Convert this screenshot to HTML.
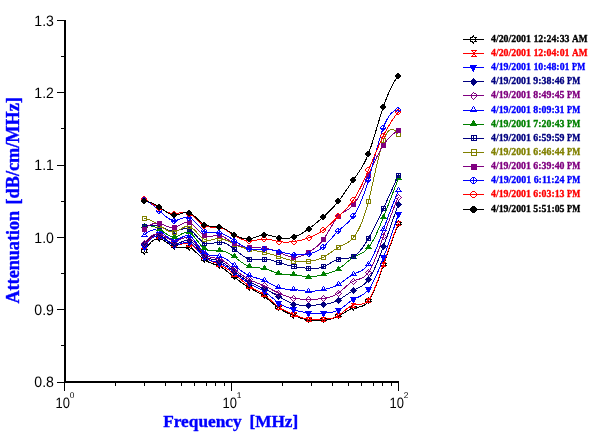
<!DOCTYPE html>
<html lang="en"><head><meta charset="utf-8"><title>Attenuation vs Frequency</title>
<style>html,body{margin:0;padding:0;background:#fff}svg{display:block}.tk{font-family:"Liberation Sans",Arial,sans-serif;font-size:15px;text-rendering:geometricPrecision;fill:#000}.sup{text-rendering:geometricPrecision;font-family:"Liberation Sans",Arial,sans-serif;font-size:8.4px;fill:#000}.ax{font-family:"Liberation Serif","Times New Roman",serif;font-weight:bold;fill:#0000ff;stroke:#0000ff;stroke-width:0.4px;stroke-linejoin:round}.lg{font-family:"Liberation Serif","Times New Roman",serif;font-weight:bold;font-size:10.3px;stroke-width:0.35px;stroke-linejoin:round}</style></head><body>
<svg width="605" height="438" viewBox="0 0 605 438">
<rect width="605" height="438" fill="#fff"/>
<g shape-rendering="crispEdges" fill="#000">
<rect x="64" y="20" width="2" height="363"/>
<rect x="64" y="381" width="335" height="2"/>
<rect x="57" y="20" width="7" height="1"/>
<rect x="61" y="56" width="3" height="1"/>
<rect x="57" y="92" width="7" height="1"/>
<rect x="61" y="128" width="3" height="1"/>
<rect x="57" y="165" width="7" height="1"/>
<rect x="61" y="201" width="3" height="1"/>
<rect x="57" y="237" width="7" height="1"/>
<rect x="61" y="273" width="3" height="1"/>
<rect x="57" y="309" width="7" height="1"/>
<rect x="61" y="345" width="3" height="1"/>
<rect x="57" y="382" width="7" height="1"/>
<rect x="64" y="383" width="1" height="8"/>
<rect x="115" y="383" width="1" height="3"/>
<rect x="144" y="383" width="1" height="3"/>
<rect x="165" y="383" width="1" height="3"/>
<rect x="181" y="383" width="1" height="3"/>
<rect x="194" y="383" width="1" height="3"/>
<rect x="206" y="383" width="1" height="3"/>
<rect x="215" y="383" width="1" height="3"/>
<rect x="224" y="383" width="1" height="3"/>
<rect x="231" y="383" width="1" height="8"/>
<rect x="282" y="383" width="1" height="3"/>
<rect x="311" y="383" width="1" height="3"/>
<rect x="332" y="383" width="1" height="3"/>
<rect x="348" y="383" width="1" height="3"/>
<rect x="361" y="383" width="1" height="3"/>
<rect x="373" y="383" width="1" height="3"/>
<rect x="382" y="383" width="1" height="3"/>
<rect x="391" y="383" width="1" height="3"/>
<rect x="398" y="383" width="1" height="8"/>
</g>
<text class="tk" x="53.9" y="26" text-anchor="end" textLength="19.6" lengthAdjust="spacingAndGlyphs">1.3</text>
<text class="tk" x="53.9" y="98" text-anchor="end" textLength="19.6" lengthAdjust="spacingAndGlyphs">1.2</text>
<text class="tk" x="53.9" y="170" text-anchor="end" textLength="19.6" lengthAdjust="spacingAndGlyphs">1.1</text>
<text class="tk" x="53.9" y="243" text-anchor="end" textLength="19.6" lengthAdjust="spacingAndGlyphs">1.0</text>
<text class="tk" x="53.9" y="315" text-anchor="end" textLength="19.6" lengthAdjust="spacingAndGlyphs">0.9</text>
<text class="tk" x="53.9" y="387" text-anchor="end" textLength="19.6" lengthAdjust="spacingAndGlyphs">0.8</text>
<text class="tk" x="70.0" y="408" text-anchor="end" textLength="14.4" lengthAdjust="spacingAndGlyphs">10</text>
<text class="sup" x="69.7" y="398">0</text>
<text class="tk" x="237.0" y="408" text-anchor="end" textLength="14.4" lengthAdjust="spacingAndGlyphs">10</text>
<text class="sup" x="236.7" y="398">1</text>
<text class="tk" x="404.0" y="408" text-anchor="end" textLength="14.4" lengthAdjust="spacingAndGlyphs">10</text>
<text class="sup" x="403.7" y="398">2</text>
<text class="ax" font-size="17.6" y="427"><tspan x="163.2" textLength="78.4" lengthAdjust="spacingAndGlyphs">Frequency</tspan> <tspan x="249.4" textLength="48.8" lengthAdjust="spacingAndGlyphs">[MHz]</tspan></text>
<text class="ax" font-size="18.6" transform="translate(18.8 303.5) rotate(-90)"><tspan x="0" textLength="92.6" lengthAdjust="spacingAndGlyphs">Attenuation</tspan> <tspan x="99" textLength="107.4" lengthAdjust="spacingAndGlyphs">[dB/cm/MHz]</tspan></text>
<g shape-rendering="crispEdges" stroke-width="1" stroke-linejoin="round">
<polyline points="144.2,251.6 145.2,249.9 146.2,248.4 147.2,246.9 148.2,245.6 149.2,244.3 150.2,243.2 151.2,242.1 152.2,241.2 153.2,240.5 154.2,239.8 155.2,239.3 156.2,238.9 157.2,238.7 158.2,238.6 159.2,238.6 160.2,238.8 161.2,239.1 162.2,239.6 163.2,240.1 164.2,240.7 165.2,241.4 166.2,242.1 167.2,242.9 168.2,243.6 169.2,244.4 170.2,245.1 171.2,245.7 172.2,246.3 173.2,246.8 174.2,247.2 175.2,247.5 176.2,247.6 177.2,247.7 178.2,247.7 179.2,247.6 180.2,247.5 181.2,247.4 182.2,247.3 183.2,247.2 184.2,247.1 185.2,247.0 186.2,247.0 187.2,247.1 188.2,247.3 189.2,247.6 190.2,248.0 191.2,248.6 192.2,249.2 193.2,249.9 194.2,250.7 195.2,251.6 196.2,252.5 197.2,253.4 198.2,254.4 199.2,255.3 200.2,256.3 201.2,257.2 202.2,258.0 203.2,258.9 204.2,259.6 205.2,260.3 206.2,260.9 207.2,261.4 208.2,261.9 209.2,262.4 210.2,262.8 211.2,263.2 212.2,263.5 213.2,263.9 214.2,264.2 215.2,264.6 216.2,264.9 217.2,265.3 218.2,265.7 219.2,266.2 220.2,266.7 221.2,267.3 222.2,267.9 223.2,268.5 224.2,269.2 225.2,269.9 226.2,270.7 227.2,271.4 228.2,272.2 229.2,273.0 230.2,273.8 231.2,274.6 232.2,275.4 233.2,276.2 234.2,277.0 235.2,277.8 236.2,278.6 237.2,279.4 238.2,280.2 239.2,280.9 240.2,281.7 241.2,282.4 242.2,283.1 243.2,283.8 244.2,284.5 245.2,285.1 246.2,285.8 247.2,286.4 248.2,287.0 249.2,287.6 250.2,288.2 251.2,288.8 252.2,289.3 253.2,289.8 254.2,290.4 255.2,290.9 256.2,291.4 257.2,292.0 258.2,292.5 259.2,293.1 260.2,293.7 261.2,294.3 262.2,294.9 263.2,295.6 264.2,296.3 265.2,297.1 266.2,297.8 267.2,298.6 268.2,299.5 269.2,300.3 270.2,301.2 271.2,302.0 272.3,302.9 273.3,303.7 274.3,304.6 275.3,305.4 276.3,306.2 277.3,307.0 278.3,307.7 279.3,308.4 280.3,309.1 281.3,309.7 282.3,310.3 283.3,310.9 284.3,311.4 285.3,311.9 286.3,312.4 287.3,312.9 288.3,313.3 289.3,313.8 290.3,314.2 291.3,314.6 292.3,315.0 293.3,315.4 294.3,315.7 295.3,316.1 296.3,316.5 297.3,316.9 298.3,317.2 299.3,317.6 300.3,318.0 301.3,318.3 302.3,318.6 303.3,318.9 304.3,319.2 305.3,319.5 306.3,319.7 307.3,319.9 308.3,320.1 309.3,320.3 310.3,320.4 311.3,320.5 312.3,320.6 313.3,320.7 314.3,320.7 315.3,320.7 316.3,320.7 317.3,320.7 318.3,320.6 319.3,320.6 320.3,320.5 321.3,320.4 322.3,320.3 323.3,320.2 324.3,320.1 325.3,320.0 326.3,319.8 327.3,319.7 328.3,319.5 329.3,319.3 330.3,319.1 331.3,318.9 332.3,318.6 333.3,318.3 334.3,318.0 335.3,317.6 336.3,317.2 337.3,316.7 338.3,316.3 339.3,315.7 340.3,315.2 341.3,314.6 342.3,314.0 343.3,313.3 344.3,312.7 345.3,312.1 346.3,311.4 347.3,310.8 348.3,310.3 349.3,309.7 350.3,309.2 351.3,308.8 352.3,308.4 353.3,308.0 354.3,307.8 355.3,307.6 356.3,307.4 357.3,307.3 358.3,307.1 359.3,307.0 360.3,306.8 361.3,306.5 362.3,306.1 363.3,305.7 364.3,305.1 365.3,304.4 366.3,303.6 367.3,302.6 368.3,301.3 369.3,299.9 370.3,298.3 371.3,296.5 372.3,294.5 373.3,292.3 374.3,290.0 375.3,287.6 376.3,285.0 377.3,282.4 378.3,279.7 379.3,276.9 380.3,274.1 381.3,271.2 382.3,268.3 383.3,265.4 384.3,262.5 385.3,259.6 386.3,256.7 387.3,253.8 388.3,251.0 389.3,248.2 390.3,245.4 391.3,242.6 392.3,239.9 393.3,237.1 394.3,234.5 395.3,231.8 396.3,229.3 397.3,226.7 398.3,224.2" fill="none" stroke="#000000"/>
<path d="M144 247h1v1h-1zM143 248h2v1h-2zM141 249h3v1h-3zM145 249h3v1h-3zM141 250h1v1h-1zM146 250h1v1h-1zM141 251h1v1h-1zM146 251h1v1h-1zM141 252h3v1h-3zM145 252h3v1h-3zM143 253h2v1h-2zM144 254h1v1h-1z" fill="#000000"/>
<path d="M159 234h1v1h-1zM158 235h2v1h-2zM156 236h3v1h-3zM160 236h3v1h-3zM156 237h1v1h-1zM161 237h1v1h-1zM156 238h1v1h-1zM161 238h1v1h-1zM156 239h3v1h-3zM160 239h3v1h-3zM158 240h2v1h-2zM159 241h1v1h-1z" fill="#000000"/>
<path d="M174 243h1v1h-1zM173 244h2v1h-2zM171 245h3v1h-3zM175 245h3v1h-3zM171 246h1v1h-1zM176 246h1v1h-1zM171 247h3v1h-3zM175 247h3v1h-3zM173 248h2v1h-2zM174 249h1v1h-1z" fill="#000000"/>
<path d="M189 243h1v1h-1zM188 244h2v1h-2zM186 245h3v1h-3zM190 245h3v1h-3zM186 246h1v1h-1zM191 246h1v1h-1zM186 247h1v1h-1zM191 247h1v1h-1zM186 248h3v1h-3zM190 248h3v1h-3zM188 249h2v1h-2zM189 250h1v1h-1z" fill="#000000"/>
<path d="M204 255h1v1h-1zM203 256h2v1h-2zM201 257h3v1h-3zM205 257h3v1h-3zM201 258h1v1h-1zM206 258h1v1h-1zM201 259h1v1h-1zM206 259h1v1h-1zM201 260h3v1h-3zM205 260h3v1h-3zM203 261h2v1h-2zM204 262h1v1h-1z" fill="#000000"/>
<path d="M219 262h1v1h-1zM218 263h2v1h-2zM216 264h3v1h-3zM220 264h3v1h-3zM216 265h1v1h-1zM221 265h1v1h-1zM216 266h3v1h-3zM220 266h3v1h-3zM218 267h2v1h-2zM219 268h1v1h-1z" fill="#000000"/>
<path d="M234 273h1v1h-1zM233 274h2v1h-2zM231 275h3v1h-3zM235 275h3v1h-3zM231 276h1v1h-1zM236 276h1v1h-1zM231 277h3v1h-3zM235 277h3v1h-3zM233 278h2v1h-2zM234 279h1v1h-1z" fill="#000000"/>
<path d="M249 283h1v1h-1zM248 284h2v1h-2zM246 285h3v1h-3zM250 285h3v1h-3zM246 286h1v1h-1zM251 286h1v1h-1zM246 287h1v1h-1zM251 287h1v1h-1zM246 288h3v1h-3zM250 288h3v1h-3zM248 289h2v1h-2zM249 290h1v1h-1z" fill="#000000"/>
<path d="M264 292h1v1h-1zM263 293h2v1h-2zM261 294h3v1h-3zM265 294h3v1h-3zM261 295h1v1h-1zM266 295h1v1h-1zM261 296h3v1h-3zM265 296h3v1h-3zM263 297h2v1h-2zM264 298h1v1h-1z" fill="#000000"/>
<path d="M278 304h1v1h-1zM277 305h2v1h-2zM275 306h3v1h-3zM279 306h3v1h-3zM275 307h1v1h-1zM280 307h1v1h-1zM275 308h3v1h-3zM279 308h3v1h-3zM277 309h2v1h-2zM278 310h1v1h-1z" fill="#000000"/>
<path d="M293 311h1v1h-1zM292 312h2v1h-2zM290 313h3v1h-3zM294 313h3v1h-3zM290 314h1v1h-1zM295 314h1v1h-1zM290 315h1v1h-1zM295 315h1v1h-1zM290 316h3v1h-3zM294 316h3v1h-3zM292 317h2v1h-2zM293 318h1v1h-1z" fill="#000000"/>
<path d="M308 316h1v1h-1zM307 317h2v1h-2zM305 318h3v1h-3zM309 318h3v1h-3zM305 319h1v1h-1zM310 319h1v1h-1zM305 320h3v1h-3zM309 320h3v1h-3zM307 321h2v1h-2zM308 322h1v1h-1z" fill="#000000"/>
<path d="M323 316h1v1h-1zM322 317h2v1h-2zM320 318h3v1h-3zM324 318h3v1h-3zM320 319h1v1h-1zM325 319h1v1h-1zM320 320h3v1h-3zM324 320h3v1h-3zM322 321h2v1h-2zM323 322h1v1h-1z" fill="#000000"/>
<path d="M338 312h1v1h-1zM337 313h2v1h-2zM335 314h3v1h-3zM339 314h3v1h-3zM335 315h1v1h-1zM340 315h1v1h-1zM335 316h3v1h-3zM339 316h3v1h-3zM337 317h2v1h-2zM338 318h1v1h-1z" fill="#000000"/>
<path d="M353 304h1v1h-1zM352 305h2v1h-2zM350 306h3v1h-3zM354 306h3v1h-3zM350 307h1v1h-1zM355 307h1v1h-1zM350 308h3v1h-3zM354 308h3v1h-3zM352 309h2v1h-2zM353 310h1v1h-1z" fill="#000000"/>
<path d="M368 297h1v1h-1zM367 298h2v1h-2zM365 299h3v1h-3zM369 299h3v1h-3zM365 300h1v1h-1zM370 300h1v1h-1zM365 301h3v1h-3zM369 301h3v1h-3zM367 302h2v1h-2zM368 303h1v1h-1z" fill="#000000"/>
<path d="M383 261h1v1h-1zM382 262h2v1h-2zM380 263h3v1h-3zM384 263h3v1h-3zM380 264h1v1h-1zM385 264h1v1h-1zM380 265h3v1h-3zM384 265h3v1h-3zM382 266h2v1h-2zM383 267h1v1h-1z" fill="#000000"/>
<path d="M398 220h1v1h-1zM397 221h2v1h-2zM395 222h3v1h-3zM399 222h3v1h-3zM395 223h1v1h-1zM400 223h1v1h-1zM395 224h3v1h-3zM399 224h3v1h-3zM397 225h2v1h-2zM398 226h1v1h-1z" fill="#000000"/>
<polyline points="144.2,246.0 145.2,244.6 146.2,243.3 147.2,242.1 148.2,241.0 149.2,240.0 150.2,239.1 151.2,238.3 152.2,237.6 153.2,237.0 154.2,236.5 155.2,236.2 156.2,235.9 157.2,235.8 158.2,235.9 159.2,236.0 160.2,236.3 161.2,236.7 162.2,237.2 163.2,237.7 164.2,238.4 165.2,239.1 166.2,239.8 167.2,240.5 168.2,241.3 169.2,242.0 170.2,242.6 171.2,243.2 172.2,243.7 173.2,244.2 174.2,244.5 175.2,244.7 176.2,244.8 177.2,244.8 178.2,244.7 179.2,244.6 180.2,244.4 181.2,244.2 182.2,244.0 183.2,243.8 184.2,243.7 185.2,243.6 186.2,243.6 187.2,243.6 188.2,243.7 189.2,244.0 190.2,244.4 191.2,244.9 192.2,245.5 193.2,246.3 194.2,247.1 195.2,247.9 196.2,248.9 197.2,249.8 198.2,250.8 199.2,251.8 200.2,252.8 201.2,253.8 202.2,254.7 203.2,255.7 204.2,256.5 205.2,257.3 206.2,258.0 207.2,258.7 208.2,259.3 209.2,259.9 210.2,260.4 211.2,260.9 212.2,261.4 213.2,261.9 214.2,262.3 215.2,262.7 216.2,263.2 217.2,263.6 218.2,264.1 219.2,264.5 220.2,265.0 221.2,265.5 222.2,266.0 223.2,266.6 224.2,267.1 225.2,267.7 226.2,268.4 227.2,269.0 228.2,269.6 229.2,270.3 230.2,271.0 231.2,271.7 232.2,272.5 233.2,273.2 234.2,274.0 235.2,274.8 236.2,275.6 237.2,276.5 238.2,277.3 239.2,278.2 240.2,279.0 241.2,279.8 242.2,280.7 243.2,281.5 244.2,282.3 245.2,283.1 246.2,283.9 247.2,284.6 248.2,285.3 249.2,286.0 250.2,286.7 251.2,287.3 252.2,287.9 253.2,288.5 254.2,289.0 255.2,289.5 256.2,290.1 257.2,290.6 258.2,291.2 259.2,291.7 260.2,292.3 261.2,292.9 262.2,293.5 263.2,294.2 264.2,294.9 265.2,295.6 266.2,296.4 267.2,297.2 268.2,298.1 269.2,298.9 270.2,299.8 271.2,300.7 272.3,301.5 273.3,302.4 274.3,303.3 275.3,304.1 276.3,305.0 277.3,305.8 278.3,306.5 279.3,307.3 280.3,307.9 281.3,308.6 282.3,309.2 283.3,309.8 284.3,310.3 285.3,310.8 286.3,311.3 287.3,311.8 288.3,312.3 289.3,312.7 290.3,313.1 291.3,313.5 292.3,313.9 293.3,314.3 294.3,314.7 295.3,315.1 296.3,315.5 297.3,315.9 298.3,316.3 299.3,316.7 300.3,317.1 301.3,317.4 302.3,317.8 303.3,318.1 304.3,318.4 305.3,318.6 306.3,318.9 307.3,319.1 308.3,319.3 309.3,319.5 310.3,319.6 311.3,319.7 312.3,319.8 313.3,319.8 314.3,319.9 315.3,319.9 316.3,319.8 317.3,319.8 318.3,319.8 319.3,319.7 320.3,319.6 321.3,319.6 322.3,319.5 323.3,319.4 324.3,319.3 325.3,319.2 326.3,319.1 327.3,319.0 328.3,318.9 329.3,318.7 330.3,318.5 331.3,318.3 332.3,318.1 333.3,317.8 334.3,317.4 335.3,317.0 336.3,316.6 337.3,316.1 338.3,315.5 339.3,314.8 340.3,314.1 341.3,313.4 342.3,312.6 343.3,311.8 344.3,310.9 345.3,310.1 346.3,309.3 347.3,308.5 348.3,307.8 349.3,307.1 350.3,306.4 351.3,305.9 352.3,305.4 353.3,305.0 354.3,304.8 355.3,304.6 356.3,304.5 357.3,304.4 358.3,304.4 359.3,304.4 360.3,304.3 361.3,304.2 362.3,304.0 363.3,303.7 364.3,303.3 365.3,302.8 366.3,302.1 367.3,301.2 368.3,300.1 369.3,298.8 370.3,297.3 371.3,295.5 372.3,293.6 373.3,291.5 374.3,289.2 375.3,286.8 376.3,284.3 377.3,281.7 378.3,278.9 379.3,276.1 380.3,273.3 381.3,270.4 382.3,267.5 383.3,264.6 384.3,261.7 385.3,258.8 386.3,255.9 387.3,253.0 388.3,250.2 389.3,247.3 390.3,244.6 391.3,241.8 392.3,239.1 393.3,236.4 394.3,233.7 395.3,231.1 396.3,228.6 397.3,226.1 398.3,223.6" fill="none" stroke="#ff0000"/>
<path d="M141 244h6v1h-6zM142 245h1v1h-1zM145 245h1v1h-1zM143 246h2v1h-2zM142 247h1v1h-1zM145 247h1v1h-1zM141 248h6v1h-6z" fill="#ff0000"/>
<path d="M156 234h6v1h-6zM157 235h1v1h-1zM160 235h1v1h-1zM158 236h2v1h-2zM157 237h1v1h-1zM160 237h1v1h-1zM156 238h6v1h-6z" fill="#ff0000"/>
<path d="M171 242h6v1h-6zM172 243h1v1h-1zM175 243h1v1h-1zM173 244h2v1h-2zM172 245h1v1h-1zM175 245h1v1h-1zM171 246h6v1h-6z" fill="#ff0000"/>
<path d="M186 242h6v1h-6zM187 243h1v1h-1zM190 243h1v1h-1zM188 244h2v1h-2zM187 245h1v1h-1zM190 245h1v1h-1zM186 246h6v1h-6z" fill="#ff0000"/>
<path d="M201 254h6v1h-6zM202 255h1v1h-1zM205 255h1v1h-1zM203 256h2v1h-2zM202 257h1v1h-1zM205 257h1v1h-1zM201 258h6v1h-6z" fill="#ff0000"/>
<path d="M216 262h6v1h-6zM217 263h1v1h-1zM220 263h1v1h-1zM218 264h2v1h-2zM217 265h1v1h-1zM220 265h1v1h-1zM216 266h6v1h-6z" fill="#ff0000"/>
<path d="M231 272h6v1h-6zM232 273h1v1h-1zM235 273h1v1h-1zM233 274h2v1h-2zM232 275h1v1h-1zM235 275h1v1h-1zM231 276h6v1h-6z" fill="#ff0000"/>
<path d="M246 284h6v1h-6zM247 285h1v1h-1zM250 285h1v1h-1zM248 286h2v1h-2zM247 287h1v1h-1zM250 287h1v1h-1zM246 288h6v1h-6z" fill="#ff0000"/>
<path d="M261 292h6v1h-6zM262 293h1v1h-1zM265 293h1v1h-1zM263 294h2v1h-2zM262 295h1v1h-1zM265 295h1v1h-1zM261 296h6v1h-6z" fill="#ff0000"/>
<path d="M276 305h6v1h-6zM277 306h1v1h-1zM280 306h1v1h-1zM278 307h2v1h-2zM277 308h1v1h-1zM280 308h1v1h-1zM276 309h6v1h-6z" fill="#ff0000"/>
<path d="M291 312h6v1h-6zM292 313h1v1h-1zM295 313h1v1h-1zM293 314h2v1h-2zM292 315h1v1h-1zM295 315h1v1h-1zM291 316h6v1h-6z" fill="#ff0000"/>
<path d="M306 317h6v1h-6zM307 318h1v1h-1zM310 318h1v1h-1zM308 319h2v1h-2zM307 320h1v1h-1zM310 320h1v1h-1zM306 321h6v1h-6z" fill="#ff0000"/>
<path d="M321 317h5v1h-5zM322 318h1v1h-1zM324 318h1v1h-1zM323 319h1v1h-1zM322 320h1v1h-1zM324 320h1v1h-1zM321 321h5v1h-5z" fill="#ff0000"/>
<path d="M336 313h5v1h-5zM337 314h1v1h-1zM339 314h1v1h-1zM338 315h1v1h-1zM337 316h1v1h-1zM339 316h1v1h-1zM336 317h5v1h-5z" fill="#ff0000"/>
<path d="M351 303h5v1h-5zM352 304h1v1h-1zM354 304h1v1h-1zM353 305h1v1h-1zM352 306h1v1h-1zM354 306h1v1h-1zM351 307h5v1h-5z" fill="#ff0000"/>
<path d="M366 298h5v1h-5zM367 299h1v1h-1zM369 299h1v1h-1zM368 300h1v1h-1zM367 301h1v1h-1zM369 301h1v1h-1zM366 302h5v1h-5z" fill="#ff0000"/>
<path d="M381 262h5v1h-5zM382 263h1v1h-1zM384 263h1v1h-1zM383 264h1v1h-1zM382 265h1v1h-1zM384 265h1v1h-1zM381 266h5v1h-5z" fill="#ff0000"/>
<path d="M396 221h5v1h-5zM397 222h1v1h-1zM399 222h1v1h-1zM398 223h1v1h-1zM397 224h1v1h-1zM399 224h1v1h-1zM396 225h5v1h-5z" fill="#ff0000"/>
<polyline points="144.2,247.0 145.2,245.5 146.2,244.2 147.2,242.9 148.2,241.7 149.2,240.6 150.2,239.7 151.2,238.8 152.2,238.1 153.2,237.5 154.2,237.0 155.2,236.6 156.2,236.4 157.2,236.3 158.2,236.3 159.2,236.5 160.2,236.8 161.2,237.2 162.2,237.8 163.2,238.4 164.2,239.1 165.2,239.8 166.2,240.5 167.2,241.3 168.2,242.0 169.2,242.7 170.2,243.4 171.2,243.9 172.2,244.4 173.2,244.8 174.2,245.0 175.2,245.1 176.2,245.0 177.2,244.9 178.2,244.6 179.2,244.3 180.2,243.9 181.2,243.6 182.2,243.2 183.2,242.8 184.2,242.5 185.2,242.3 186.2,242.2 187.2,242.1 188.2,242.2 189.2,242.5 190.2,242.9 191.2,243.5 192.2,244.3 193.2,245.2 194.2,246.1 195.2,247.2 196.2,248.3 197.2,249.4 198.2,250.6 199.2,251.8 200.2,252.9 201.2,254.1 202.2,255.1 203.2,256.1 204.2,257.0 205.2,257.8 206.2,258.5 207.2,259.1 208.2,259.6 209.2,260.0 210.2,260.4 211.2,260.8 212.2,261.0 213.2,261.3 214.2,261.6 215.2,261.8 216.2,262.1 217.2,262.4 218.2,262.7 219.2,263.0 220.2,263.4 221.2,263.8 222.2,264.3 223.2,264.9 224.2,265.4 225.2,266.0 226.2,266.7 227.2,267.3 228.2,268.0 229.2,268.7 230.2,269.5 231.2,270.2 232.2,271.0 233.2,271.7 234.2,272.5 235.2,273.3 236.2,274.1 237.2,274.9 238.2,275.7 239.2,276.5 240.2,277.3 241.2,278.0 242.2,278.8 243.2,279.5 244.2,280.2 245.2,280.9 246.2,281.6 247.2,282.3 248.2,282.9 249.2,283.5 250.2,284.1 251.2,284.6 252.2,285.2 253.2,285.7 254.2,286.2 255.2,286.7 256.2,287.1 257.2,287.6 258.2,288.1 259.2,288.7 260.2,289.2 261.2,289.7 262.2,290.3 263.2,290.9 264.2,291.6 265.2,292.3 266.2,293.0 267.2,293.8 268.2,294.6 269.2,295.4 270.2,296.2 271.2,297.0 272.3,297.9 273.3,298.7 274.3,299.5 275.3,300.3 276.3,301.1 277.3,301.8 278.3,302.6 279.3,303.2 280.3,303.9 281.3,304.5 282.3,305.0 283.3,305.6 284.3,306.1 285.3,306.5 286.3,307.0 287.3,307.4 288.3,307.8 289.3,308.2 290.3,308.5 291.3,308.9 292.3,309.2 293.3,309.5 294.3,309.8 295.3,310.1 296.3,310.4 297.3,310.7 298.3,311.0 299.3,311.2 300.3,311.5 301.3,311.7 302.3,311.9 303.3,312.2 304.3,312.3 305.3,312.5 306.3,312.7 307.3,312.8 308.3,312.9 309.3,313.0 310.3,313.1 311.3,313.2 312.3,313.2 313.3,313.3 314.3,313.3 315.3,313.3 316.3,313.3 317.3,313.2 318.3,313.2 319.3,313.2 320.3,313.1 321.3,313.1 322.3,313.1 323.3,313.0 324.3,313.0 325.3,312.9 326.3,312.9 327.3,312.8 328.3,312.7 329.3,312.6 330.3,312.5 331.3,312.3 332.3,312.1 333.3,311.9 334.3,311.6 335.3,311.3 336.3,311.0 337.3,310.5 338.3,310.1 339.3,309.5 340.3,308.9 341.3,308.3 342.3,307.6 343.3,306.9 344.3,306.1 345.3,305.3 346.3,304.6 347.3,303.8 348.3,303.0 349.3,302.3 350.3,301.5 351.3,300.8 352.3,300.2 353.3,299.6 354.3,299.0 355.3,298.5 356.3,298.0 357.3,297.5 358.3,297.1 359.3,296.6 360.3,296.1 361.3,295.6 362.3,295.0 363.3,294.3 364.3,293.6 365.3,292.8 366.3,291.9 367.3,290.8 368.3,289.6 369.3,288.3 370.3,286.9 371.3,285.2 372.3,283.5 373.3,281.7 374.3,279.7 375.3,277.6 376.3,275.5 377.3,273.2 378.3,270.8 379.3,268.4 380.3,265.9 381.3,263.3 382.3,260.7 383.3,258.1 384.3,255.3 385.3,252.6 386.3,249.8 387.3,247.0 388.3,244.1 389.3,241.2 390.3,238.3 391.3,235.4 392.3,232.5 393.3,229.5 394.3,226.6 395.3,223.6 396.3,220.7 397.3,217.7 398.3,214.8" fill="none" stroke="#0000ff"/>
<path d="M141 245h7v1h-7zM142 246h5v1h-5zM142 247h5v1h-5zM143 248h3v1h-3zM143 249h3v1h-3zM144 250h1v1h-1z" fill="#0000ff"/>
<path d="M156 234h7v1h-7zM157 235h5v1h-5zM157 236h5v1h-5zM158 237h3v1h-3zM158 238h3v1h-3zM159 239h1v1h-1z" fill="#0000ff"/>
<path d="M171 243h7v1h-7zM172 244h5v1h-5zM172 245h5v1h-5zM173 246h3v1h-3zM173 247h3v1h-3zM174 248h1v1h-1z" fill="#0000ff"/>
<path d="M186 240h7v1h-7zM187 241h5v1h-5zM187 242h5v1h-5zM188 243h3v1h-3zM188 244h3v1h-3zM189 245h1v1h-1z" fill="#0000ff"/>
<path d="M201 255h7v1h-7zM202 256h5v1h-5zM202 257h5v1h-5zM203 258h3v1h-3zM203 259h3v1h-3zM204 260h1v1h-1z" fill="#0000ff"/>
<path d="M216 261h7v1h-7zM217 262h5v1h-5zM217 263h5v1h-5zM218 264h3v1h-3zM218 265h3v1h-3zM219 266h1v1h-1z" fill="#0000ff"/>
<path d="M231 270h7v1h-7zM232 271h5v1h-5zM232 272h5v1h-5zM233 273h3v1h-3zM233 274h3v1h-3zM234 275h1v1h-1z" fill="#0000ff"/>
<path d="M246 281h7v1h-7zM247 282h5v1h-5zM247 283h5v1h-5zM248 284h3v1h-3zM248 285h3v1h-3zM249 286h1v1h-1z" fill="#0000ff"/>
<path d="M261 289h7v1h-7zM262 290h5v1h-5zM262 291h5v1h-5zM263 292h3v1h-3zM263 293h3v1h-3zM264 294h1v1h-1z" fill="#0000ff"/>
<path d="M275 301h7v1h-7zM276 302h5v1h-5zM276 303h5v1h-5zM277 304h3v1h-3zM277 305h3v1h-3zM278 306h1v1h-1z" fill="#0000ff"/>
<path d="M290 307h7v1h-7zM291 308h5v1h-5zM291 309h5v1h-5zM292 310h3v1h-3zM292 311h3v1h-3zM293 312h1v1h-1z" fill="#0000ff"/>
<path d="M305 311h7v1h-7zM306 312h5v1h-5zM306 313h5v1h-5zM307 314h3v1h-3zM307 315h3v1h-3zM308 316h1v1h-1z" fill="#0000ff"/>
<path d="M320 311h7v1h-7zM321 312h5v1h-5zM321 313h5v1h-5zM322 314h3v1h-3zM322 315h3v1h-3zM323 316h1v1h-1z" fill="#0000ff"/>
<path d="M335 308h7v1h-7zM336 309h5v1h-5zM336 310h5v1h-5zM337 311h3v1h-3zM337 312h3v1h-3zM338 313h1v1h-1z" fill="#0000ff"/>
<path d="M350 297h7v1h-7zM351 298h5v1h-5zM351 299h5v1h-5zM352 300h3v1h-3zM352 301h3v1h-3zM353 302h1v1h-1z" fill="#0000ff"/>
<path d="M365 287h7v1h-7zM366 288h5v1h-5zM366 289h5v1h-5zM367 290h3v1h-3zM367 291h3v1h-3zM368 292h1v1h-1z" fill="#0000ff"/>
<path d="M380 255h7v1h-7zM381 256h5v1h-5zM381 257h5v1h-5zM382 258h3v1h-3zM382 259h3v1h-3zM383 260h1v1h-1z" fill="#0000ff"/>
<path d="M395 212h7v1h-7zM396 213h5v1h-5zM396 214h5v1h-5zM397 215h3v1h-3zM397 216h3v1h-3zM398 217h1v1h-1z" fill="#0000ff"/>
<polyline points="144.2,244.5 145.2,243.1 146.2,241.8 147.2,240.6 148.2,239.4 149.2,238.4 150.2,237.5 151.2,236.8 152.2,236.1 153.2,235.6 154.2,235.1 155.2,234.8 156.2,234.7 157.2,234.7 158.2,234.8 159.2,235.0 160.2,235.4 161.2,235.9 162.2,236.5 163.2,237.2 164.2,237.9 165.2,238.7 166.2,239.5 167.2,240.3 168.2,241.0 169.2,241.8 170.2,242.4 171.2,243.0 172.2,243.5 173.2,243.8 174.2,244.0 175.2,244.0 176.2,243.9 177.2,243.7 178.2,243.4 179.2,243.0 180.2,242.5 181.2,242.1 182.2,241.6 183.2,241.2 184.2,240.8 185.2,240.5 186.2,240.3 187.2,240.2 188.2,240.3 189.2,240.5 190.2,240.9 191.2,241.5 192.2,242.3 193.2,243.2 194.2,244.2 195.2,245.3 196.2,246.5 197.2,247.7 198.2,248.9 199.2,250.1 200.2,251.3 201.2,252.5 202.2,253.6 203.2,254.6 204.2,255.5 205.2,256.3 206.2,257.0 207.2,257.5 208.2,258.0 209.2,258.4 210.2,258.7 211.2,259.0 212.2,259.3 213.2,259.5 214.2,259.7 215.2,259.9 216.2,260.1 217.2,260.4 218.2,260.7 219.2,261.0 220.2,261.4 221.2,261.9 222.2,262.4 223.2,263.0 224.2,263.6 225.2,264.3 226.2,265.0 227.2,265.7 228.2,266.5 229.2,267.2 230.2,268.0 231.2,268.8 232.2,269.6 233.2,270.4 234.2,271.2 235.2,272.0 236.2,272.8 237.2,273.5 238.2,274.3 239.2,275.0 240.2,275.7 241.2,276.4 242.2,277.1 243.2,277.8 244.2,278.5 245.2,279.1 246.2,279.7 247.2,280.4 248.2,280.9 249.2,281.5 250.2,282.1 251.2,282.6 252.2,283.1 253.2,283.7 254.2,284.2 255.2,284.7 256.2,285.1 257.2,285.6 258.2,286.1 259.2,286.5 260.2,287.0 261.2,287.5 262.2,287.9 263.2,288.4 264.2,288.9 265.2,289.3 266.2,289.8 267.2,290.3 268.2,290.8 269.2,291.3 270.2,291.8 271.2,292.3 272.3,292.9 273.3,293.4 274.3,293.9 275.3,294.5 276.3,295.0 277.3,295.6 278.3,296.1 279.3,296.7 280.3,297.3 281.3,297.9 282.3,298.4 283.3,299.0 284.3,299.6 285.3,300.2 286.3,300.7 287.3,301.2 288.3,301.7 289.3,302.2 290.3,302.7 291.3,303.1 292.3,303.5 293.3,303.8 294.3,304.1 295.3,304.4 296.3,304.6 297.3,304.7 298.3,304.9 299.3,305.0 300.3,305.1 301.3,305.1 302.3,305.2 303.3,305.2 304.3,305.2 305.3,305.2 306.3,305.2 307.3,305.1 308.3,305.1 309.3,305.1 310.3,305.1 311.3,305.1 312.3,305.0 313.3,305.0 314.3,305.0 315.3,305.0 316.3,305.0 317.3,304.9 318.3,304.9 319.3,304.8 320.3,304.8 321.3,304.7 322.3,304.6 323.3,304.5 324.3,304.4 325.3,304.2 326.3,304.1 327.3,303.9 328.3,303.7 329.3,303.5 330.3,303.2 331.3,302.9 332.3,302.6 333.3,302.3 334.3,301.9 335.3,301.5 336.3,301.1 337.3,300.6 338.3,300.1 339.3,299.5 340.3,298.9 341.3,298.3 342.3,297.7 343.3,297.0 344.3,296.4 345.3,295.7 346.3,295.0 347.3,294.3 348.3,293.7 349.3,293.0 350.3,292.4 351.3,291.7 352.3,291.1 353.3,290.6 354.3,290.0 355.3,289.5 356.3,289.0 357.3,288.5 358.3,288.0 359.3,287.5 360.3,287.0 361.3,286.3 362.3,285.7 363.3,284.9 364.3,284.1 365.3,283.2 366.3,282.1 367.3,281.0 368.3,279.7 369.3,278.2 370.3,276.6 371.3,274.9 372.3,273.0 373.3,271.1 374.3,269.0 375.3,266.8 376.3,264.5 377.3,262.2 378.3,259.7 379.3,257.2 380.3,254.7 381.3,252.0 382.3,249.4 383.3,246.7 384.3,243.9 385.3,241.1 386.3,238.4 387.3,235.6 388.3,232.7 389.3,229.9 390.3,227.0 391.3,224.2 392.3,221.3 393.3,218.5 394.3,215.6 395.3,212.8 396.3,209.9 397.3,207.1 398.3,204.3" fill="none" stroke="#000080"/>
<path d="M144 241h1v1h-1zM143 242h3v1h-3zM142 243h5v1h-5zM141 244h7v1h-7zM142 245h5v1h-5zM143 246h3v1h-3zM144 247h1v1h-1z" fill="#000080"/>
<path d="M159 232h1v1h-1zM158 233h3v1h-3zM157 234h5v1h-5zM156 235h7v1h-7zM157 236h5v1h-5zM158 237h3v1h-3zM159 238h1v1h-1z" fill="#000080"/>
<path d="M174 241h1v1h-1zM173 242h3v1h-3zM172 243h5v1h-5zM171 244h7v1h-7zM172 245h5v1h-5zM173 246h3v1h-3zM174 247h1v1h-1z" fill="#000080"/>
<path d="M189 237h1v1h-1zM188 238h3v1h-3zM187 239h5v1h-5zM186 240h7v1h-7zM187 241h5v1h-5zM188 242h3v1h-3zM189 243h1v1h-1z" fill="#000080"/>
<path d="M204 252h1v1h-1zM203 253h3v1h-3zM202 254h5v1h-5zM201 255h7v1h-7zM202 256h5v1h-5zM203 257h3v1h-3zM204 258h1v1h-1z" fill="#000080"/>
<path d="M219 258h1v1h-1zM218 259h3v1h-3zM217 260h5v1h-5zM216 261h7v1h-7zM217 262h5v1h-5zM218 263h3v1h-3zM219 264h1v1h-1z" fill="#000080"/>
<path d="M234 268h1v1h-1zM233 269h3v1h-3zM232 270h5v1h-5zM231 271h7v1h-7zM232 272h5v1h-5zM233 273h3v1h-3zM234 274h1v1h-1z" fill="#000080"/>
<path d="M249 278h1v1h-1zM248 279h3v1h-3zM247 280h5v1h-5zM246 281h7v1h-7zM247 282h5v1h-5zM248 283h3v1h-3zM249 284h1v1h-1z" fill="#000080"/>
<path d="M264 285h1v1h-1zM263 286h3v1h-3zM262 287h5v1h-5zM261 288h7v1h-7zM262 289h5v1h-5zM263 290h3v1h-3zM264 291h1v1h-1z" fill="#000080"/>
<path d="M278 293h1v1h-1zM277 294h3v1h-3zM276 295h5v1h-5zM275 296h7v1h-7zM276 297h5v1h-5zM277 298h3v1h-3zM278 299h1v1h-1z" fill="#000080"/>
<path d="M293 301h1v1h-1zM292 302h3v1h-3zM291 303h5v1h-5zM290 304h7v1h-7zM291 305h5v1h-5zM292 306h3v1h-3zM293 307h1v1h-1z" fill="#000080"/>
<path d="M308 302h1v1h-1zM307 303h3v1h-3zM306 304h5v1h-5zM305 305h7v1h-7zM306 306h5v1h-5zM307 307h3v1h-3zM308 308h1v1h-1z" fill="#000080"/>
<path d="M323 301h1v1h-1zM322 302h3v1h-3zM321 303h5v1h-5zM320 304h7v1h-7zM321 305h5v1h-5zM322 306h3v1h-3zM323 307h1v1h-1z" fill="#000080"/>
<path d="M338 297h1v1h-1zM337 298h3v1h-3zM336 299h5v1h-5zM335 300h7v1h-7zM336 301h5v1h-5zM337 302h3v1h-3zM338 303h1v1h-1z" fill="#000080"/>
<path d="M353 287h1v1h-1zM352 288h3v1h-3zM351 289h5v1h-5zM350 290h7v1h-7zM351 291h5v1h-5zM352 292h3v1h-3zM353 293h1v1h-1z" fill="#000080"/>
<path d="M368 276h1v1h-1zM367 277h3v1h-3zM366 278h5v1h-5zM365 279h7v1h-7zM366 280h5v1h-5zM367 281h3v1h-3zM368 282h1v1h-1z" fill="#000080"/>
<path d="M383 243h1v1h-1zM382 244h3v1h-3zM381 245h5v1h-5zM380 246h7v1h-7zM381 247h5v1h-5zM382 248h3v1h-3zM383 249h1v1h-1z" fill="#000080"/>
<path d="M398 201h1v1h-1zM397 202h3v1h-3zM396 203h5v1h-5zM395 204h7v1h-7zM396 205h5v1h-5zM397 206h3v1h-3zM398 207h1v1h-1z" fill="#000080"/>
<polyline points="144.2,243.5 145.2,242.2 146.2,240.9 147.2,239.8 148.2,238.7 149.2,237.8 150.2,236.9 151.2,236.1 152.2,235.5 153.2,234.9 154.2,234.5 155.2,234.1 156.2,233.9 157.2,233.8 158.2,233.9 159.2,234.0 160.2,234.3 161.2,234.6 162.2,235.1 163.2,235.6 164.2,236.2 165.2,236.9 166.2,237.5 167.2,238.1 168.2,238.7 169.2,239.3 170.2,239.8 171.2,240.3 172.2,240.6 173.2,240.9 174.2,241.0 175.2,241.0 176.2,240.8 177.2,240.6 178.2,240.2 179.2,239.8 180.2,239.4 181.2,239.0 182.2,238.6 183.2,238.2 184.2,237.9 185.2,237.6 186.2,237.5 187.2,237.5 188.2,237.7 189.2,238.0 190.2,238.5 191.2,239.2 192.2,240.1 193.2,241.1 194.2,242.2 195.2,243.3 196.2,244.6 197.2,245.9 198.2,247.2 199.2,248.4 200.2,249.7 201.2,250.9 202.2,252.1 203.2,253.1 204.2,254.0 205.2,254.8 206.2,255.5 207.2,256.0 208.2,256.5 209.2,256.8 210.2,257.1 211.2,257.4 212.2,257.6 213.2,257.7 214.2,257.9 215.2,258.1 216.2,258.2 217.2,258.4 218.2,258.7 219.2,259.0 220.2,259.4 221.2,259.8 222.2,260.3 223.2,260.9 224.2,261.5 225.2,262.2 226.2,262.9 227.2,263.6 228.2,264.4 229.2,265.2 230.2,266.0 231.2,266.8 232.2,267.6 233.2,268.4 234.2,269.2 235.2,270.0 236.2,270.8 237.2,271.6 238.2,272.4 239.2,273.1 240.2,273.9 241.2,274.6 242.2,275.3 243.2,275.9 244.2,276.6 245.2,277.2 246.2,277.8 247.2,278.4 248.2,279.0 249.2,279.5 250.2,280.0 251.2,280.5 252.2,281.0 253.2,281.4 254.2,281.8 255.2,282.2 256.2,282.6 257.2,283.0 258.2,283.4 259.2,283.8 260.2,284.2 261.2,284.6 262.2,285.0 263.2,285.4 264.2,285.9 265.2,286.3 266.2,286.8 267.2,287.3 268.2,287.8 269.2,288.3 270.2,288.8 271.2,289.3 272.3,289.8 273.3,290.4 274.3,290.9 275.3,291.4 276.3,291.9 277.3,292.4 278.3,292.9 279.3,293.4 280.3,293.8 281.3,294.3 282.3,294.7 283.3,295.1 284.3,295.5 285.3,295.8 286.3,296.2 287.3,296.5 288.3,296.8 289.3,297.1 290.3,297.4 291.3,297.6 292.3,297.9 293.3,298.1 294.3,298.3 295.3,298.4 296.3,298.6 297.3,298.7 298.3,298.8 299.3,298.9 300.3,299.0 301.3,299.0 302.3,299.1 303.3,299.1 304.3,299.1 305.3,299.2 306.3,299.2 307.3,299.2 308.3,299.2 309.3,299.2 310.3,299.2 311.3,299.2 312.3,299.2 313.3,299.2 314.3,299.2 315.3,299.1 316.3,299.1 317.3,299.0 318.3,299.0 319.3,298.9 320.3,298.8 321.3,298.7 322.3,298.6 323.3,298.5 324.3,298.4 325.3,298.2 326.3,298.0 327.3,297.8 328.3,297.6 329.3,297.3 330.3,297.0 331.3,296.7 332.3,296.3 333.3,295.9 334.3,295.5 335.3,294.9 336.3,294.4 337.3,293.8 338.3,293.1 339.3,292.4 340.3,291.6 341.3,290.7 342.3,289.9 343.3,289.0 344.3,288.1 345.3,287.2 346.3,286.3 347.3,285.4 348.3,284.6 349.3,283.8 350.3,283.0 351.3,282.3 352.3,281.7 353.3,281.2 354.3,280.7 355.3,280.3 356.3,280.0 357.3,279.7 358.3,279.4 359.3,279.1 360.3,278.7 361.3,278.4 362.3,277.9 363.3,277.4 364.3,276.7 365.3,276.0 366.3,275.0 367.3,273.9 368.3,272.7 369.3,271.2 370.3,269.5 371.3,267.6 372.3,265.6 373.3,263.4 374.3,261.1 375.3,258.6 376.3,256.1 377.3,253.4 378.3,250.7 379.3,247.9 380.3,245.1 381.3,242.3 382.3,239.4 383.3,236.6 384.3,233.7 385.3,230.9 386.3,228.1 387.3,225.3 388.3,222.6 389.3,219.9 390.3,217.2 391.3,214.5 392.3,211.9 393.3,209.3 394.3,206.8 395.3,204.3 396.3,201.8 397.3,199.4 398.3,197.1" fill="none" stroke="#800080"/>
<path d="M144 240h1v1h-1zM143 241h1v1h-1zM145 241h1v1h-1zM142 242h1v1h-1zM146 242h1v1h-1zM141 243h1v1h-1zM147 243h1v1h-1zM142 244h1v1h-1zM146 244h1v1h-1zM143 245h1v1h-1zM145 245h1v1h-1zM144 246h1v1h-1z" fill="#800080"/>
<path d="M159 231h1v1h-1zM158 232h1v1h-1zM160 232h1v1h-1zM157 233h1v1h-1zM161 233h1v1h-1zM156 234h1v1h-1zM162 234h1v1h-1zM157 235h1v1h-1zM161 235h1v1h-1zM158 236h1v1h-1zM160 236h1v1h-1zM159 237h1v1h-1z" fill="#800080"/>
<path d="M174 238h1v1h-1zM173 239h1v1h-1zM175 239h1v1h-1zM172 240h1v1h-1zM176 240h1v1h-1zM171 241h1v1h-1zM177 241h1v1h-1zM172 242h1v1h-1zM176 242h1v1h-1zM173 243h1v1h-1zM175 243h1v1h-1zM174 244h1v1h-1z" fill="#800080"/>
<path d="M189 235h1v1h-1zM188 236h1v1h-1zM190 236h1v1h-1zM187 237h1v1h-1zM191 237h1v1h-1zM186 238h1v1h-1zM192 238h1v1h-1zM187 239h1v1h-1zM191 239h1v1h-1zM188 240h1v1h-1zM190 240h1v1h-1zM189 241h1v1h-1z" fill="#800080"/>
<path d="M204 251h1v1h-1zM203 252h1v1h-1zM205 252h1v1h-1zM202 253h1v1h-1zM206 253h1v1h-1zM201 254h1v1h-1zM207 254h1v1h-1zM202 255h1v1h-1zM206 255h1v1h-1zM203 256h1v1h-1zM205 256h1v1h-1zM204 257h1v1h-1z" fill="#800080"/>
<path d="M219 256h1v1h-1zM218 257h1v1h-1zM220 257h1v1h-1zM217 258h1v1h-1zM221 258h1v1h-1zM216 259h1v1h-1zM222 259h1v1h-1zM217 260h1v1h-1zM221 260h1v1h-1zM218 261h1v1h-1zM220 261h1v1h-1zM219 262h1v1h-1z" fill="#800080"/>
<path d="M234 266h1v1h-1zM233 267h1v1h-1zM235 267h1v1h-1zM232 268h1v1h-1zM236 268h1v1h-1zM231 269h1v1h-1zM237 269h1v1h-1zM232 270h1v1h-1zM236 270h1v1h-1zM233 271h1v1h-1zM235 271h1v1h-1zM234 272h1v1h-1z" fill="#800080"/>
<path d="M249 276h1v1h-1zM248 277h1v1h-1zM250 277h1v1h-1zM247 278h1v1h-1zM251 278h1v1h-1zM246 279h1v1h-1zM252 279h1v1h-1zM247 280h1v1h-1zM251 280h1v1h-1zM248 281h1v1h-1zM250 281h1v1h-1zM249 282h1v1h-1z" fill="#800080"/>
<path d="M264 282h1v1h-1zM263 283h1v1h-1zM265 283h1v1h-1zM262 284h1v1h-1zM266 284h1v1h-1zM261 285h1v1h-1zM267 285h1v1h-1zM262 286h1v1h-1zM266 286h1v1h-1zM263 287h1v1h-1zM265 287h1v1h-1zM264 288h1v1h-1z" fill="#800080"/>
<path d="M278 290h1v1h-1zM277 291h1v1h-1zM279 291h1v1h-1zM276 292h1v1h-1zM280 292h1v1h-1zM275 293h1v1h-1zM281 293h1v1h-1zM276 294h1v1h-1zM280 294h1v1h-1zM277 295h1v1h-1zM279 295h1v1h-1zM278 296h1v1h-1z" fill="#800080"/>
<path d="M293 295h1v1h-1zM292 296h1v1h-1zM294 296h1v1h-1zM291 297h1v1h-1zM295 297h1v1h-1zM290 298h1v1h-1zM296 298h1v1h-1zM291 299h1v1h-1zM295 299h1v1h-1zM292 300h1v1h-1zM294 300h1v1h-1zM293 301h1v1h-1z" fill="#800080"/>
<path d="M308 296h1v1h-1zM307 297h1v1h-1zM309 297h1v1h-1zM306 298h1v1h-1zM310 298h1v1h-1zM305 299h1v1h-1zM311 299h1v1h-1zM306 300h1v1h-1zM310 300h1v1h-1zM307 301h1v1h-1zM309 301h1v1h-1zM308 302h1v1h-1z" fill="#800080"/>
<path d="M323 295h1v1h-1zM322 296h1v1h-1zM324 296h1v1h-1zM321 297h1v1h-1zM325 297h1v1h-1zM320 298h1v1h-1zM326 298h1v1h-1zM321 299h1v1h-1zM325 299h1v1h-1zM322 300h1v1h-1zM324 300h1v1h-1zM323 301h1v1h-1z" fill="#800080"/>
<path d="M338 290h1v1h-1zM337 291h1v1h-1zM339 291h1v1h-1zM336 292h1v1h-1zM340 292h1v1h-1zM335 293h1v1h-1zM341 293h1v1h-1zM336 294h1v1h-1zM340 294h1v1h-1zM337 295h1v1h-1zM339 295h1v1h-1zM338 296h1v1h-1z" fill="#800080"/>
<path d="M353 278h1v1h-1zM352 279h1v1h-1zM354 279h1v1h-1zM351 280h1v1h-1zM355 280h1v1h-1zM350 281h1v1h-1zM356 281h1v1h-1zM351 282h1v1h-1zM355 282h1v1h-1zM352 283h1v1h-1zM354 283h1v1h-1zM353 284h1v1h-1z" fill="#800080"/>
<path d="M368 269h1v1h-1zM367 270h1v1h-1zM369 270h1v1h-1zM366 271h1v1h-1zM370 271h1v1h-1zM365 272h1v1h-1zM371 272h1v1h-1zM366 273h1v1h-1zM370 273h1v1h-1zM367 274h1v1h-1zM369 274h1v1h-1zM368 275h1v1h-1z" fill="#800080"/>
<path d="M383 233h1v1h-1zM382 234h1v1h-1zM384 234h1v1h-1zM381 235h1v1h-1zM385 235h1v1h-1zM380 236h1v1h-1zM386 236h1v1h-1zM381 237h1v1h-1zM385 237h1v1h-1zM382 238h1v1h-1zM384 238h1v1h-1zM383 239h1v1h-1z" fill="#800080"/>
<path d="M398 194h1v1h-1zM397 195h1v1h-1zM399 195h1v1h-1zM396 196h1v1h-1zM400 196h1v1h-1zM395 197h1v1h-1zM401 197h1v1h-1zM396 198h1v1h-1zM400 198h1v1h-1zM397 199h1v1h-1zM399 199h1v1h-1zM398 200h1v1h-1z" fill="#800080"/>
<polyline points="144.2,235.0 145.2,234.1 146.2,233.3 147.2,232.6 148.2,231.9 149.2,231.3 150.2,230.9 151.2,230.5 152.2,230.2 153.2,230.0 154.2,229.9 155.2,229.9 156.2,230.1 157.2,230.3 158.2,230.6 159.2,231.0 160.2,231.5 161.2,232.1 162.2,232.8 163.2,233.6 164.2,234.4 165.2,235.1 166.2,235.9 167.2,236.7 168.2,237.4 169.2,238.1 170.2,238.7 171.2,239.2 172.2,239.6 173.2,239.9 174.2,240.0 175.2,240.0 176.2,239.8 177.2,239.5 178.2,239.1 179.2,238.6 180.2,238.2 181.2,237.7 182.2,237.2 183.2,236.7 184.2,236.3 185.2,236.0 186.2,235.8 187.2,235.8 188.2,235.9 189.2,236.2 190.2,236.7 191.2,237.4 192.2,238.3 193.2,239.3 194.2,240.4 195.2,241.6 196.2,242.9 197.2,244.2 198.2,245.6 199.2,246.9 200.2,248.2 201.2,249.4 202.2,250.6 203.2,251.6 204.2,252.5 205.2,253.3 206.2,253.9 207.2,254.4 208.2,254.7 209.2,255.0 210.2,255.2 211.2,255.3 212.2,255.4 213.2,255.5 214.2,255.5 215.2,255.5 216.2,255.6 217.2,255.7 218.2,255.8 219.2,256.0 220.2,256.3 221.2,256.6 222.2,257.0 223.2,257.5 224.2,258.0 225.2,258.6 226.2,259.3 227.2,259.9 228.2,260.6 229.2,261.4 230.2,262.1 231.2,262.9 232.2,263.7 233.2,264.5 234.2,265.3 235.2,266.1 236.2,266.9 237.2,267.7 238.2,268.5 239.2,269.3 240.2,270.0 241.2,270.7 242.2,271.4 243.2,272.1 244.2,272.8 245.2,273.4 246.2,274.0 247.2,274.5 248.2,275.0 249.2,275.5 250.2,275.9 251.2,276.3 252.2,276.7 253.2,277.0 254.2,277.3 255.2,277.6 256.2,277.9 257.2,278.2 258.2,278.5 259.2,278.8 260.2,279.1 261.2,279.4 262.2,279.8 263.2,280.1 264.2,280.6 265.2,281.0 266.2,281.5 267.2,282.0 268.2,282.5 269.2,283.1 270.2,283.7 271.2,284.2 272.3,284.8 273.3,285.3 274.3,285.8 275.3,286.3 276.3,286.8 277.3,287.2 278.3,287.6 279.3,287.9 280.3,288.2 281.3,288.4 282.3,288.6 283.3,288.8 284.3,288.9 285.3,289.0 286.3,289.0 287.3,289.1 288.3,289.1 289.3,289.2 290.3,289.2 291.3,289.2 292.3,289.3 293.3,289.3 294.3,289.4 295.3,289.5 296.3,289.7 297.3,289.8 298.3,290.0 299.3,290.1 300.3,290.3 301.3,290.4 302.3,290.6 303.3,290.8 304.3,290.9 305.3,291.0 306.3,291.1 307.3,291.2 308.3,291.3 309.3,291.3 310.3,291.3 311.3,291.3 312.3,291.2 313.3,291.2 314.3,291.1 315.3,290.9 316.3,290.8 317.3,290.7 318.3,290.5 319.3,290.3 320.3,290.1 321.3,289.9 322.3,289.7 323.3,289.5 324.3,289.3 325.3,289.1 326.3,288.9 327.3,288.7 328.3,288.4 329.3,288.2 330.3,287.9 331.3,287.6 332.3,287.3 333.3,286.9 334.3,286.5 335.3,286.1 336.3,285.6 337.3,285.1 338.3,284.6 339.3,284.0 340.3,283.3 341.3,282.6 342.3,281.9 343.3,281.2 344.3,280.4 345.3,279.7 346.3,278.9 347.3,278.2 348.3,277.4 349.3,276.7 350.3,276.1 351.3,275.4 352.3,274.8 353.3,274.3 354.3,273.8 355.3,273.3 356.3,272.9 357.3,272.5 358.3,272.1 359.3,271.7 360.3,271.2 361.3,270.7 362.3,270.1 363.3,269.5 364.3,268.7 365.3,267.8 366.3,266.8 367.3,265.7 368.3,264.4 369.3,262.9 370.3,261.2 371.3,259.4 372.3,257.4 373.3,255.3 374.3,253.1 375.3,250.8 376.3,248.4 377.3,245.9 378.3,243.3 379.3,240.7 380.3,238.0 381.3,235.3 382.3,232.6 383.3,229.9 384.3,227.1 385.3,224.4 386.3,221.7 387.3,219.0 388.3,216.3 389.3,213.6 390.3,211.0 391.3,208.4 392.3,205.8 393.3,203.2 394.3,200.7 395.3,198.1 396.3,195.7 397.3,193.2 398.3,190.8" fill="none" stroke="#0000ff"/>
<path d="M144 232h1v1h-1zM143 233h1v1h-1zM145 233h1v1h-1zM143 234h1v1h-1zM145 234h1v1h-1zM142 235h1v1h-1zM146 235h1v1h-1zM141 236h7v1h-7z" fill="#0000ff"/>
<path d="M159 228h1v1h-1zM158 229h1v1h-1zM160 229h1v1h-1zM158 230h1v1h-1zM160 230h1v1h-1zM157 231h1v1h-1zM161 231h1v1h-1zM156 232h7v1h-7z" fill="#0000ff"/>
<path d="M174 237h1v1h-1zM173 238h1v1h-1zM175 238h1v1h-1zM173 239h1v1h-1zM175 239h1v1h-1zM172 240h1v1h-1zM176 240h1v1h-1zM171 241h7v1h-7z" fill="#0000ff"/>
<path d="M189 233h1v1h-1zM188 234h1v1h-1zM190 234h1v1h-1zM188 235h1v1h-1zM190 235h1v1h-1zM187 236h1v1h-1zM191 236h1v1h-1zM186 237h7v1h-7z" fill="#0000ff"/>
<path d="M204 249h1v1h-1zM203 250h1v1h-1zM205 250h1v1h-1zM203 251h1v1h-1zM205 251h1v1h-1zM202 252h1v1h-1zM206 252h1v1h-1zM201 253h7v1h-7z" fill="#0000ff"/>
<path d="M219 253h1v1h-1zM218 254h1v1h-1zM220 254h1v1h-1zM218 255h1v1h-1zM220 255h1v1h-1zM217 256h1v1h-1zM221 256h1v1h-1zM216 257h7v1h-7z" fill="#0000ff"/>
<path d="M234 262h1v1h-1zM233 263h1v1h-1zM235 263h1v1h-1zM233 264h1v1h-1zM235 264h1v1h-1zM232 265h1v1h-1zM236 265h1v1h-1zM231 266h7v1h-7z" fill="#0000ff"/>
<path d="M249 272h1v1h-1zM248 273h1v1h-1zM250 273h1v1h-1zM248 274h1v1h-1zM250 274h1v1h-1zM247 275h1v1h-1zM251 275h1v1h-1zM246 276h7v1h-7z" fill="#0000ff"/>
<path d="M264 277h1v1h-1zM263 278h1v1h-1zM265 278h1v1h-1zM263 279h1v1h-1zM265 279h1v1h-1zM262 280h1v1h-1zM266 280h1v1h-1zM261 281h7v1h-7z" fill="#0000ff"/>
<path d="M278 284h1v1h-1zM277 285h1v1h-1zM279 285h1v1h-1zM277 286h1v1h-1zM279 286h1v1h-1zM276 287h1v1h-1zM280 287h1v1h-1zM275 288h7v1h-7z" fill="#0000ff"/>
<path d="M293 286h1v1h-1zM292 287h1v1h-1zM294 287h1v1h-1zM292 288h1v1h-1zM294 288h1v1h-1zM291 289h1v1h-1zM295 289h1v1h-1zM290 290h7v1h-7z" fill="#0000ff"/>
<path d="M308 288h1v1h-1zM307 289h1v1h-1zM309 289h1v1h-1zM307 290h1v1h-1zM309 290h1v1h-1zM306 291h1v1h-1zM310 291h1v1h-1zM305 292h7v1h-7z" fill="#0000ff"/>
<path d="M323 286h1v1h-1zM322 287h1v1h-1zM324 287h1v1h-1zM322 288h1v1h-1zM324 288h1v1h-1zM321 289h1v1h-1zM325 289h1v1h-1zM320 290h7v1h-7z" fill="#0000ff"/>
<path d="M338 281h1v1h-1zM337 282h1v1h-1zM339 282h1v1h-1zM337 283h1v1h-1zM339 283h1v1h-1zM336 284h1v1h-1zM340 284h1v1h-1zM335 285h7v1h-7z" fill="#0000ff"/>
<path d="M353 271h1v1h-1zM352 272h1v1h-1zM354 272h1v1h-1zM352 273h1v1h-1zM354 273h1v1h-1zM351 274h1v1h-1zM355 274h1v1h-1zM350 275h7v1h-7z" fill="#0000ff"/>
<path d="M368 261h1v1h-1zM367 262h1v1h-1zM369 262h1v1h-1zM367 263h1v1h-1zM369 263h1v1h-1zM366 264h1v1h-1zM370 264h1v1h-1zM365 265h7v1h-7z" fill="#0000ff"/>
<path d="M383 226h1v1h-1zM382 227h1v1h-1zM384 227h1v1h-1zM382 228h1v1h-1zM384 228h1v1h-1zM381 229h1v1h-1zM385 229h1v1h-1zM380 230h7v1h-7z" fill="#0000ff"/>
<path d="M398 187h1v1h-1zM397 188h1v1h-1zM399 188h1v1h-1zM397 189h1v1h-1zM399 189h1v1h-1zM396 190h1v1h-1zM400 190h1v1h-1zM395 191h7v1h-7z" fill="#0000ff"/>
<polyline points="144.2,226.5 145.2,226.3 146.2,226.1 147.2,226.0 148.2,225.9 149.2,225.9 150.2,225.9 151.2,226.0 152.2,226.2 153.2,226.4 154.2,226.7 155.2,227.0 156.2,227.4 157.2,227.9 158.2,228.4 159.2,229.0 160.2,229.6 161.2,230.3 162.2,231.0 163.2,231.8 164.2,232.5 165.2,233.2 166.2,233.9 167.2,234.6 168.2,235.2 169.2,235.8 170.2,236.2 171.2,236.6 172.2,236.9 173.2,237.0 174.2,237.0 175.2,236.9 176.2,236.6 177.2,236.2 178.2,235.8 179.2,235.3 180.2,234.8 181.2,234.2 182.2,233.7 183.2,233.3 184.2,232.9 185.2,232.5 186.2,232.4 187.2,232.3 188.2,232.4 189.2,232.7 190.2,233.2 191.2,233.9 192.2,234.7 193.2,235.7 194.2,236.8 195.2,238.0 196.2,239.3 197.2,240.6 198.2,241.9 199.2,243.1 200.2,244.4 201.2,245.6 202.2,246.7 203.2,247.7 204.2,248.5 205.2,249.2 206.2,249.8 207.2,250.2 208.2,250.5 209.2,250.7 210.2,250.8 211.2,250.9 212.2,250.9 213.2,250.8 214.2,250.7 215.2,250.7 216.2,250.6 217.2,250.5 218.2,250.5 219.2,250.5 220.2,250.6 221.2,250.7 222.2,250.9 223.2,251.2 224.2,251.5 225.2,251.8 226.2,252.2 227.2,252.7 228.2,253.2 229.2,253.7 230.2,254.2 231.2,254.8 232.2,255.5 233.2,256.1 234.2,256.8 235.2,257.5 236.2,258.3 237.2,259.0 238.2,259.8 239.2,260.5 240.2,261.2 241.2,262.0 242.2,262.7 243.2,263.3 244.2,264.0 245.2,264.6 246.2,265.2 247.2,265.7 248.2,266.1 249.2,266.5 250.2,266.8 251.2,267.1 252.2,267.3 253.2,267.5 254.2,267.6 255.2,267.7 256.2,267.8 257.2,267.8 258.2,267.9 259.2,267.9 260.2,268.0 261.2,268.1 262.2,268.2 263.2,268.3 264.2,268.5 265.2,268.8 266.2,269.1 267.2,269.4 268.2,269.7 269.2,270.1 270.2,270.5 271.2,270.9 272.3,271.3 273.3,271.7 274.3,272.0 275.3,272.4 276.3,272.8 277.3,273.1 278.3,273.3 279.3,273.6 280.3,273.8 281.3,273.9 282.3,274.0 283.3,274.1 284.3,274.1 285.3,274.2 286.3,274.2 287.3,274.2 288.3,274.2 289.3,274.2 290.3,274.3 291.3,274.3 292.3,274.4 293.3,274.4 294.3,274.5 295.3,274.7 296.3,274.8 297.3,275.0 298.3,275.2 299.3,275.4 300.3,275.7 301.3,275.9 302.3,276.1 303.3,276.3 304.3,276.5 305.3,276.7 306.3,276.8 307.3,276.9 308.3,277.0 309.3,277.0 310.3,277.0 311.3,276.9 312.3,276.9 313.3,276.7 314.3,276.6 315.3,276.4 316.3,276.2 317.3,276.0 318.3,275.8 319.3,275.5 320.3,275.3 321.3,275.0 322.3,274.8 323.3,274.5 324.3,274.3 325.3,274.0 326.3,273.8 327.3,273.5 328.3,273.3 329.3,273.0 330.3,272.7 331.3,272.3 332.3,272.0 333.3,271.6 334.3,271.2 335.3,270.7 336.3,270.2 337.3,269.7 338.3,269.1 339.3,268.4 340.3,267.7 341.3,267.0 342.3,266.2 343.3,265.4 344.3,264.5 345.3,263.7 346.3,262.9 347.3,262.0 348.3,261.2 349.3,260.4 350.3,259.6 351.3,258.9 352.3,258.2 353.3,257.6 354.3,257.0 355.3,256.5 356.3,256.0 357.3,255.5 358.3,255.0 359.3,254.5 360.3,254.0 361.3,253.5 362.3,252.9 363.3,252.3 364.3,251.6 365.3,250.8 366.3,249.9 367.3,248.9 368.3,247.7 369.3,246.5 370.3,245.0 371.3,243.5 372.3,241.8 373.3,240.0 374.3,238.1 375.3,236.1 376.3,234.1 377.3,231.9 378.3,229.7 379.3,227.4 380.3,225.0 381.3,222.6 382.3,220.1 383.3,217.6 384.3,215.1 385.3,212.6 386.3,210.0 387.3,207.4 388.3,204.8 389.3,202.2 390.3,199.6 391.3,197.0 392.3,194.3 393.3,191.7 394.3,189.1 395.3,186.5 396.3,183.9 397.3,181.3 398.3,178.7" fill="none" stroke="#008000"/>
<path d="M144 223h1v1h-1zM143 224h3v1h-3zM143 225h3v1h-3zM142 226h5v1h-5zM141 227h7v1h-7z" fill="#008000"/>
<path d="M159 226h1v1h-1zM158 227h3v1h-3zM158 228h3v1h-3zM157 229h5v1h-5zM156 230h7v1h-7z" fill="#008000"/>
<path d="M174 234h1v1h-1zM173 235h3v1h-3zM173 236h3v1h-3zM172 237h5v1h-5zM171 238h7v1h-7z" fill="#008000"/>
<path d="M189 229h1v1h-1zM188 230h3v1h-3zM188 231h3v1h-3zM187 232h5v1h-5zM186 233h7v1h-7z" fill="#008000"/>
<path d="M204 245h1v1h-1zM203 246h3v1h-3zM203 247h3v1h-3zM202 248h5v1h-5zM201 249h7v1h-7z" fill="#008000"/>
<path d="M219 247h1v1h-1zM218 248h3v1h-3zM218 249h3v1h-3zM217 250h5v1h-5zM216 251h7v1h-7z" fill="#008000"/>
<path d="M234 253h1v1h-1zM233 254h3v1h-3zM233 255h3v1h-3zM232 256h5v1h-5zM231 257h7v1h-7z" fill="#008000"/>
<path d="M249 263h1v1h-1zM248 264h3v1h-3zM248 265h3v1h-3zM247 266h5v1h-5zM246 267h7v1h-7z" fill="#008000"/>
<path d="M264 265h1v1h-1zM263 266h3v1h-3zM263 267h3v1h-3zM262 268h5v1h-5zM261 269h7v1h-7z" fill="#008000"/>
<path d="M278 270h1v1h-1zM277 271h3v1h-3zM277 272h3v1h-3zM276 273h5v1h-5zM275 274h7v1h-7z" fill="#008000"/>
<path d="M293 271h1v1h-1zM292 272h3v1h-3zM292 273h3v1h-3zM291 274h5v1h-5zM290 275h7v1h-7z" fill="#008000"/>
<path d="M308 274h1v1h-1zM307 275h3v1h-3zM307 276h3v1h-3zM306 277h5v1h-5zM305 278h7v1h-7z" fill="#008000"/>
<path d="M323 271h1v1h-1zM322 272h3v1h-3zM322 273h3v1h-3zM321 274h5v1h-5zM320 275h7v1h-7z" fill="#008000"/>
<path d="M338 266h1v1h-1zM337 267h3v1h-3zM337 268h3v1h-3zM336 269h5v1h-5zM335 270h7v1h-7z" fill="#008000"/>
<path d="M353 254h1v1h-1zM352 255h3v1h-3zM352 256h3v1h-3zM351 257h5v1h-5zM350 258h7v1h-7z" fill="#008000"/>
<path d="M368 244h1v1h-1zM367 245h3v1h-3zM367 246h3v1h-3zM366 247h5v1h-5zM365 248h7v1h-7z" fill="#008000"/>
<path d="M383 214h1v1h-1zM382 215h3v1h-3zM382 216h3v1h-3zM381 217h5v1h-5zM380 218h7v1h-7z" fill="#008000"/>
<path d="M398 175h1v1h-1zM397 176h3v1h-3zM397 177h3v1h-3zM396 178h5v1h-5zM395 179h7v1h-7z" fill="#008000"/>
<polyline points="144.2,226.5 145.2,226.2 146.2,226.0 147.2,225.8 148.2,225.6 149.2,225.5 150.2,225.4 151.2,225.4 152.2,225.4 153.2,225.4 154.2,225.5 155.2,225.6 156.2,225.8 157.2,226.0 158.2,226.2 159.2,226.5 160.2,226.8 161.2,227.2 162.2,227.6 163.2,228.0 164.2,228.4 165.2,228.8 166.2,229.2 167.2,229.6 168.2,230.0 169.2,230.3 170.2,230.6 171.2,230.8 172.2,230.9 173.2,231.0 174.2,231.0 175.2,230.9 176.2,230.7 177.2,230.5 178.2,230.2 179.2,230.0 180.2,229.7 181.2,229.4 182.2,229.1 183.2,228.9 184.2,228.8 185.2,228.7 186.2,228.7 187.2,228.8 188.2,229.1 189.2,229.5 190.2,230.1 191.2,230.8 192.2,231.6 193.2,232.5 194.2,233.5 195.2,234.6 196.2,235.7 197.2,236.8 198.2,237.9 199.2,238.9 200.2,239.9 201.2,240.9 202.2,241.7 203.2,242.4 204.2,243.0 205.2,243.4 206.2,243.7 207.2,243.9 208.2,243.9 209.2,243.9 210.2,243.8 211.2,243.6 212.2,243.4 213.2,243.1 214.2,242.9 215.2,242.6 216.2,242.4 217.2,242.2 218.2,242.1 219.2,242.0 220.2,242.0 221.2,242.1 222.2,242.3 223.2,242.6 224.2,242.9 225.2,243.3 226.2,243.7 227.2,244.3 228.2,244.8 229.2,245.4 230.2,246.1 231.2,246.8 232.2,247.5 233.2,248.3 234.2,249.0 235.2,249.8 236.2,250.6 237.2,251.4 238.2,252.3 239.2,253.1 240.2,253.9 241.2,254.6 242.2,255.4 243.2,256.1 244.2,256.7 245.2,257.3 246.2,257.9 247.2,258.4 248.2,258.8 249.2,259.1 250.2,259.4 251.2,259.5 252.2,259.7 253.2,259.7 254.2,259.7 255.2,259.7 256.2,259.6 257.2,259.5 258.2,259.4 259.2,259.3 260.2,259.2 261.2,259.1 262.2,259.0 263.2,259.0 264.2,259.0 265.2,259.0 266.2,259.1 267.2,259.3 268.2,259.4 269.2,259.6 270.2,259.8 271.2,260.1 272.3,260.4 273.3,260.7 274.3,261.0 275.3,261.3 276.3,261.6 277.3,262.0 278.3,262.3 279.3,262.6 280.3,262.9 281.3,263.3 282.3,263.6 283.3,263.9 284.3,264.2 285.3,264.5 286.3,264.8 287.3,265.1 288.3,265.3 289.3,265.6 290.3,265.8 291.3,266.1 292.3,266.3 293.3,266.5 294.3,266.7 295.3,266.8 296.3,267.0 297.3,267.2 298.3,267.3 299.3,267.4 300.3,267.5 301.3,267.6 302.3,267.7 303.3,267.8 304.3,267.9 305.3,268.0 306.3,268.0 307.3,268.1 308.3,268.2 309.3,268.2 310.3,268.3 311.3,268.3 312.3,268.4 313.3,268.4 314.3,268.4 315.3,268.4 316.3,268.3 317.3,268.2 318.3,268.1 319.3,268.0 320.3,267.8 321.3,267.5 322.3,267.2 323.3,266.9 324.3,266.4 325.3,266.0 326.3,265.5 327.3,264.9 328.3,264.3 329.3,263.8 330.3,263.2 331.3,262.6 332.3,262.0 333.3,261.4 334.3,260.9 335.3,260.4 336.3,260.0 337.3,259.6 338.3,259.2 339.3,259.0 340.3,258.8 341.3,258.6 342.3,258.5 343.3,258.5 344.3,258.4 345.3,258.4 346.3,258.3 347.3,258.2 348.3,258.1 349.3,257.9 350.3,257.7 351.3,257.4 352.3,257.0 353.3,256.6 354.3,256.0 355.3,255.3 356.3,254.5 357.3,253.7 358.3,252.7 359.3,251.6 360.3,250.5 361.3,249.3 362.3,248.0 363.3,246.6 364.3,245.1 365.3,243.6 366.3,242.0 367.3,240.4 368.3,238.7 369.3,236.9 370.3,235.1 371.3,233.3 372.3,231.4 373.3,229.5 374.3,227.5 375.3,225.5 376.3,223.5 377.3,221.4 378.3,219.3 379.3,217.2 380.3,215.1 381.3,213.0 382.3,210.8 383.3,208.6 384.3,206.4 385.3,204.2 386.3,202.0 387.3,199.8 388.3,197.6 389.3,195.4 390.3,193.2 391.3,191.0 392.3,188.8 393.3,186.5 394.3,184.3 395.3,182.1 396.3,179.9 397.3,177.7 398.3,175.5" fill="none" stroke="#000080"/>
<path d="M142 224h5v1h-5zM142 225h1v1h-1zM144 225h1v1h-1zM146 225h1v1h-1zM142 226h5v1h-5zM142 227h1v1h-1zM144 227h1v1h-1zM146 227h1v1h-1zM142 228h5v1h-5z" fill="#000080"/>
<path d="M157 224h5v1h-5zM157 225h1v1h-1zM159 225h1v1h-1zM161 225h1v1h-1zM157 226h5v1h-5zM157 227h1v1h-1zM159 227h1v1h-1zM161 227h1v1h-1zM157 228h5v1h-5z" fill="#000080"/>
<path d="M172 229h5v1h-5zM172 230h1v1h-1zM174 230h1v1h-1zM176 230h1v1h-1zM172 231h5v1h-5zM172 232h1v1h-1zM174 232h1v1h-1zM176 232h1v1h-1zM172 233h5v1h-5z" fill="#000080"/>
<path d="M187 227h5v1h-5zM187 228h1v1h-1zM189 228h1v1h-1zM191 228h1v1h-1zM187 229h5v1h-5zM187 230h1v1h-1zM189 230h1v1h-1zM191 230h1v1h-1zM187 231h5v1h-5z" fill="#000080"/>
<path d="M202 241h5v1h-5zM202 242h1v1h-1zM204 242h1v1h-1zM206 242h1v1h-1zM202 243h5v1h-5zM202 244h1v1h-1zM204 244h1v1h-1zM206 244h1v1h-1zM202 245h5v1h-5z" fill="#000080"/>
<path d="M217 240h5v1h-5zM217 241h1v1h-1zM219 241h1v1h-1zM221 241h1v1h-1zM217 242h5v1h-5zM217 243h1v1h-1zM219 243h1v1h-1zM221 243h1v1h-1zM217 244h5v1h-5z" fill="#000080"/>
<path d="M232 247h5v1h-5zM232 248h1v1h-1zM234 248h1v1h-1zM236 248h1v1h-1zM232 249h5v1h-5zM232 250h1v1h-1zM234 250h1v1h-1zM236 250h1v1h-1zM232 251h5v1h-5z" fill="#000080"/>
<path d="M247 257h5v1h-5zM247 258h1v1h-1zM249 258h1v1h-1zM251 258h1v1h-1zM247 259h5v1h-5zM247 260h1v1h-1zM249 260h1v1h-1zM251 260h1v1h-1zM247 261h5v1h-5z" fill="#000080"/>
<path d="M262 257h5v1h-5zM262 258h1v1h-1zM264 258h1v1h-1zM266 258h1v1h-1zM262 259h5v1h-5zM262 260h1v1h-1zM264 260h1v1h-1zM266 260h1v1h-1zM262 261h5v1h-5z" fill="#000080"/>
<path d="M276 260h6v1h-6zM276 261h1v1h-1zM279 261h1v1h-1zM281 261h1v1h-1zM276 262h6v1h-6zM276 263h1v1h-1zM279 263h1v1h-1zM281 263h1v1h-1zM276 264h6v1h-6z" fill="#000080"/>
<path d="M291 264h6v1h-6zM291 265h1v1h-1zM294 265h1v1h-1zM296 265h1v1h-1zM291 266h6v1h-6zM291 267h1v1h-1zM294 267h1v1h-1zM296 267h1v1h-1zM291 268h6v1h-6z" fill="#000080"/>
<path d="M306 266h5v1h-5zM306 267h1v1h-1zM308 267h1v1h-1zM310 267h1v1h-1zM306 268h5v1h-5zM306 269h1v1h-1zM308 269h1v1h-1zM310 269h1v1h-1zM306 270h5v1h-5z" fill="#000080"/>
<path d="M321 264h5v1h-5zM321 265h1v1h-1zM323 265h1v1h-1zM325 265h1v1h-1zM321 266h5v1h-5zM321 267h1v1h-1zM323 267h1v1h-1zM325 267h1v1h-1zM321 268h5v1h-5z" fill="#000080"/>
<path d="M336 257h5v1h-5zM336 258h1v1h-1zM338 258h1v1h-1zM340 258h1v1h-1zM336 259h5v1h-5zM336 260h1v1h-1zM338 260h1v1h-1zM340 260h1v1h-1zM336 261h5v1h-5z" fill="#000080"/>
<path d="M351 254h5v1h-5zM351 255h1v1h-1zM353 255h1v1h-1zM355 255h1v1h-1zM351 256h5v1h-5zM351 257h1v1h-1zM353 257h1v1h-1zM355 257h1v1h-1zM351 258h5v1h-5z" fill="#000080"/>
<path d="M366 236h5v1h-5zM366 237h1v1h-1zM368 237h1v1h-1zM370 237h1v1h-1zM366 238h5v1h-5zM366 239h1v1h-1zM368 239h1v1h-1zM370 239h1v1h-1zM366 240h5v1h-5z" fill="#000080"/>
<path d="M381 206h5v1h-5zM381 207h1v1h-1zM383 207h1v1h-1zM385 207h1v1h-1zM381 208h5v1h-5zM381 209h1v1h-1zM383 209h1v1h-1zM385 209h1v1h-1zM381 210h5v1h-5z" fill="#000080"/>
<path d="M396 173h5v1h-5zM396 174h1v1h-1zM398 174h1v1h-1zM400 174h1v1h-1zM396 175h5v1h-5zM396 176h1v1h-1zM398 176h1v1h-1zM400 176h1v1h-1zM396 177h5v1h-5z" fill="#000080"/>
<polyline points="144.2,218.5 145.2,218.7 146.2,218.9 147.2,219.2 148.2,219.5 149.2,219.8 150.2,220.2 151.2,220.6 152.2,221.0 153.2,221.5 154.2,222.0 155.2,222.5 156.2,223.1 157.2,223.7 158.2,224.3 159.2,225.0 160.2,225.7 161.2,226.4 162.2,227.1 163.2,227.8 164.2,228.5 165.2,229.2 166.2,229.8 167.2,230.4 168.2,230.9 169.2,231.3 170.2,231.6 171.2,231.9 172.2,232.1 173.2,232.1 174.2,232.0 175.2,231.8 176.2,231.4 177.2,231.0 178.2,230.5 179.2,229.9 180.2,229.3 181.2,228.7 182.2,228.2 183.2,227.6 184.2,227.1 185.2,226.8 186.2,226.5 187.2,226.3 188.2,226.3 189.2,226.5 190.2,226.9 191.2,227.4 192.2,228.1 193.2,228.9 194.2,229.8 195.2,230.8 196.2,231.8 197.2,232.9 198.2,234.0 199.2,235.0 200.2,236.1 201.2,237.0 202.2,237.9 203.2,238.6 204.2,239.2 205.2,239.7 206.2,240.0 207.2,240.2 208.2,240.2 209.2,240.2 210.2,240.1 211.2,239.9 212.2,239.7 213.2,239.5 214.2,239.3 215.2,239.0 216.2,238.8 217.2,238.6 218.2,238.5 219.2,238.5 220.2,238.5 221.2,238.7 222.2,238.9 223.2,239.2 224.2,239.5 225.2,239.9 226.2,240.3 227.2,240.8 228.2,241.3 229.2,241.8 230.2,242.3 231.2,242.8 232.2,243.3 233.2,243.8 234.2,244.3 235.2,244.8 236.2,245.2 237.2,245.6 238.2,246.0 239.2,246.4 240.2,246.7 241.2,247.1 242.2,247.4 243.2,247.7 244.2,247.9 245.2,248.2 246.2,248.5 247.2,248.7 248.2,249.0 249.2,249.2 250.2,249.4 251.2,249.7 252.2,249.9 253.2,250.1 254.2,250.3 255.2,250.6 256.2,250.8 257.2,251.0 258.2,251.2 259.2,251.4 260.2,251.6 261.2,251.9 262.2,252.1 263.2,252.3 264.2,252.5 265.2,252.8 266.2,253.0 267.2,253.2 268.2,253.5 269.2,253.7 270.2,254.0 271.2,254.3 272.3,254.5 273.3,254.8 274.3,255.1 275.3,255.4 276.3,255.7 277.3,256.0 278.3,256.3 279.3,256.6 280.3,256.9 281.3,257.3 282.3,257.6 283.3,258.0 284.3,258.3 285.3,258.6 286.3,259.0 287.3,259.3 288.3,259.6 289.3,259.9 290.3,260.2 291.3,260.4 292.3,260.7 293.3,260.9 294.3,261.1 295.3,261.2 296.3,261.4 297.3,261.5 298.3,261.5 299.3,261.6 300.3,261.6 301.3,261.6 302.3,261.6 303.3,261.6 304.3,261.6 305.3,261.5 306.3,261.4 307.3,261.4 308.3,261.3 309.3,261.1 310.3,261.0 311.3,260.9 312.3,260.7 313.3,260.6 314.3,260.4 315.3,260.2 316.3,259.9 317.3,259.6 318.3,259.3 319.3,259.0 320.3,258.6 321.3,258.2 322.3,257.8 323.3,257.3 324.3,256.7 325.3,256.1 326.3,255.5 327.3,254.9 328.3,254.2 329.3,253.5 330.3,252.8 331.3,252.1 332.3,251.4 333.3,250.7 334.3,250.0 335.3,249.3 336.3,248.7 337.3,248.1 338.3,247.5 339.3,246.9 340.3,246.4 341.3,245.9 342.3,245.4 343.3,245.0 344.3,244.5 345.3,243.9 346.3,243.4 347.3,242.8 348.3,242.1 349.3,241.4 350.3,240.6 351.3,239.7 352.3,238.7 353.3,237.5 354.3,236.3 355.3,234.9 356.3,233.4 357.3,231.7 358.3,229.9 359.3,227.9 360.3,225.8 361.3,223.5 362.3,221.0 363.3,218.3 364.3,215.4 365.3,212.3 366.3,209.1 367.3,205.6 368.3,201.8 369.3,197.9 370.3,193.7 371.3,189.5 372.3,185.1 373.3,180.6 374.3,176.1 375.3,171.6 376.3,167.1 377.3,162.8 378.3,158.5 379.3,154.5 380.3,150.6 381.3,147.0 382.3,143.7 383.3,140.8 384.3,138.1 385.3,135.9 386.3,134.0 387.3,132.4 388.3,131.2 389.3,130.3 390.3,129.7 391.3,129.4 392.3,129.4 393.3,129.6 394.3,130.2 395.3,130.9 396.3,131.9 397.3,133.2 398.3,134.6" fill="none" stroke="#808000"/>
<path d="M142 216h5v1h-5zM142 217h1v1h-1zM146 217h1v1h-1zM142 218h1v1h-1zM146 218h1v1h-1zM142 219h1v1h-1zM146 219h1v1h-1zM142 220h5v1h-5z" fill="#808000"/>
<path d="M157 223h5v1h-5zM157 224h1v1h-1zM161 224h1v1h-1zM157 225h1v1h-1zM161 225h1v1h-1zM157 226h1v1h-1zM161 226h1v1h-1zM157 227h5v1h-5z" fill="#808000"/>
<path d="M172 230h5v1h-5zM172 231h1v1h-1zM176 231h1v1h-1zM172 232h1v1h-1zM176 232h1v1h-1zM172 233h1v1h-1zM176 233h1v1h-1zM172 234h5v1h-5z" fill="#808000"/>
<path d="M187 224h5v1h-5zM187 225h1v1h-1zM191 225h1v1h-1zM187 226h1v1h-1zM191 226h1v1h-1zM187 227h1v1h-1zM191 227h1v1h-1zM187 228h5v1h-5z" fill="#808000"/>
<path d="M202 237h5v1h-5zM202 238h1v1h-1zM206 238h1v1h-1zM202 239h1v1h-1zM206 239h1v1h-1zM202 240h1v1h-1zM206 240h1v1h-1zM202 241h5v1h-5z" fill="#808000"/>
<path d="M217 236h5v1h-5zM217 237h1v1h-1zM221 237h1v1h-1zM217 238h1v1h-1zM221 238h1v1h-1zM217 239h1v1h-1zM221 239h1v1h-1zM217 240h5v1h-5z" fill="#808000"/>
<path d="M232 242h5v1h-5zM232 243h1v1h-1zM236 243h1v1h-1zM232 244h1v1h-1zM236 244h1v1h-1zM232 245h1v1h-1zM236 245h1v1h-1zM232 246h5v1h-5z" fill="#808000"/>
<path d="M247 247h5v1h-5zM247 248h1v1h-1zM251 248h1v1h-1zM247 249h1v1h-1zM251 249h1v1h-1zM247 250h1v1h-1zM251 250h1v1h-1zM247 251h5v1h-5z" fill="#808000"/>
<path d="M262 250h5v1h-5zM262 251h1v1h-1zM266 251h1v1h-1zM262 252h1v1h-1zM266 252h1v1h-1zM262 253h1v1h-1zM266 253h1v1h-1zM262 254h5v1h-5z" fill="#808000"/>
<path d="M276 254h5v1h-5zM276 255h1v1h-1zM280 255h1v1h-1zM276 256h1v1h-1zM280 256h1v1h-1zM276 257h1v1h-1zM280 257h1v1h-1zM276 258h5v1h-5z" fill="#808000"/>
<path d="M291 259h5v1h-5zM291 260h1v1h-1zM295 260h1v1h-1zM291 261h1v1h-1zM295 261h1v1h-1zM291 262h1v1h-1zM295 262h1v1h-1zM291 263h5v1h-5z" fill="#808000"/>
<path d="M306 259h5v1h-5zM306 260h1v1h-1zM310 260h1v1h-1zM306 261h1v1h-1zM310 261h1v1h-1zM306 262h1v1h-1zM310 262h1v1h-1zM306 263h5v1h-5z" fill="#808000"/>
<path d="M321 255h5v1h-5zM321 256h1v1h-1zM325 256h1v1h-1zM321 257h1v1h-1zM325 257h1v1h-1zM321 258h1v1h-1zM325 258h1v1h-1zM321 259h5v1h-5z" fill="#808000"/>
<path d="M336 245h5v1h-5zM336 246h1v1h-1zM340 246h1v1h-1zM336 247h1v1h-1zM340 247h1v1h-1zM336 248h1v1h-1zM340 248h1v1h-1zM336 249h5v1h-5z" fill="#808000"/>
<path d="M351 235h5v1h-5zM351 236h1v1h-1zM355 236h1v1h-1zM351 237h1v1h-1zM355 237h1v1h-1zM351 238h1v1h-1zM355 238h1v1h-1zM351 239h5v1h-5z" fill="#808000"/>
<path d="M366 199h5v1h-5zM366 200h1v1h-1zM370 200h1v1h-1zM366 201h1v1h-1zM370 201h1v1h-1zM366 202h1v1h-1zM370 202h1v1h-1zM366 203h5v1h-5z" fill="#808000"/>
<path d="M381 138h5v1h-5zM381 139h1v1h-1zM385 139h1v1h-1zM381 140h1v1h-1zM385 140h1v1h-1zM381 141h1v1h-1zM385 141h1v1h-1zM381 142h5v1h-5z" fill="#808000"/>
<path d="M396 132h5v1h-5zM396 133h1v1h-1zM400 133h1v1h-1zM396 134h1v1h-1zM400 134h1v1h-1zM396 135h1v1h-1zM400 135h1v1h-1zM396 136h5v1h-5z" fill="#808000"/>
<polyline points="144.2,229.0 145.2,228.2 146.2,227.4 147.2,226.7 148.2,226.0 149.2,225.4 150.2,224.9 151.2,224.5 152.2,224.1 153.2,223.8 154.2,223.5 155.2,223.4 156.2,223.3 157.2,223.3 158.2,223.4 159.2,223.5 160.2,223.7 161.2,224.0 162.2,224.4 163.2,224.7 164.2,225.1 165.2,225.6 166.2,226.0 167.2,226.4 168.2,226.7 169.2,227.1 170.2,227.3 171.2,227.5 172.2,227.6 173.2,227.6 174.2,227.5 175.2,227.3 176.2,226.9 177.2,226.5 178.2,226.0 179.2,225.5 180.2,224.9 181.2,224.4 182.2,223.8 183.2,223.3 184.2,222.9 185.2,222.6 186.2,222.3 187.2,222.2 188.2,222.3 189.2,222.5 190.2,222.9 191.2,223.5 192.2,224.2 193.2,225.0 194.2,226.0 195.2,227.0 196.2,228.0 197.2,229.1 198.2,230.2 199.2,231.3 200.2,232.3 201.2,233.3 202.2,234.1 203.2,234.9 204.2,235.5 205.2,236.0 206.2,236.3 207.2,236.5 208.2,236.6 209.2,236.6 210.2,236.5 211.2,236.4 212.2,236.2 213.2,236.0 214.2,235.8 215.2,235.6 216.2,235.5 217.2,235.4 218.2,235.4 219.2,235.5 220.2,235.7 221.2,236.0 222.2,236.3 223.2,236.8 224.2,237.3 225.2,237.8 226.2,238.4 227.2,239.0 228.2,239.7 229.2,240.4 230.2,241.0 231.2,241.7 232.2,242.3 233.2,242.9 234.2,243.5 235.2,244.0 236.2,244.5 237.2,245.0 238.2,245.3 239.2,245.7 240.2,246.0 241.2,246.3 242.2,246.5 243.2,246.7 244.2,246.9 245.2,247.1 246.2,247.2 247.2,247.3 248.2,247.4 249.2,247.5 250.2,247.6 251.2,247.6 252.2,247.7 253.2,247.7 254.2,247.7 255.2,247.8 256.2,247.8 257.2,247.8 258.2,247.8 259.2,247.9 260.2,247.9 261.2,248.0 262.2,248.0 263.2,248.1 264.2,248.2 265.2,248.3 266.2,248.5 267.2,248.6 268.2,248.8 269.2,249.0 270.2,249.2 271.2,249.4 272.3,249.7 273.3,250.0 274.3,250.3 275.3,250.6 276.3,250.9 277.3,251.3 278.3,251.7 279.3,252.2 280.3,252.6 281.3,253.1 282.3,253.6 283.3,254.0 284.3,254.5 285.3,255.0 286.3,255.4 287.3,255.8 288.3,256.2 289.3,256.6 290.3,256.9 291.3,257.1 292.3,257.3 293.3,257.5 294.3,257.5 295.3,257.5 296.3,257.4 297.3,257.2 298.3,257.0 299.3,256.7 300.3,256.4 301.3,256.0 302.3,255.5 303.3,255.1 304.3,254.6 305.3,254.0 306.3,253.5 307.3,252.9 308.3,252.3 309.3,251.7 310.3,251.1 311.3,250.5 312.3,249.9 313.3,249.2 314.3,248.5 315.3,247.7 316.3,246.9 317.3,246.1 318.3,245.2 319.3,244.2 320.3,243.2 321.3,242.0 322.3,240.8 323.3,239.5 324.3,238.1 325.3,236.6 326.3,235.0 327.3,233.4 328.3,231.7 329.3,230.0 330.3,228.3 331.3,226.6 332.3,224.9 333.3,223.3 334.3,221.8 335.3,220.3 336.3,218.9 337.3,217.6 338.3,216.4 339.3,215.4 340.3,214.5 341.3,213.7 342.3,213.0 343.3,212.3 344.3,211.7 345.3,211.1 346.3,210.6 347.3,210.0 348.3,209.3 349.3,208.7 350.3,207.9 351.3,207.0 352.3,206.1 353.3,204.9 354.3,203.7 355.3,202.3 356.3,200.7 357.3,199.0 358.3,197.2 359.3,195.3 360.3,193.4 361.3,191.3 362.3,189.2 363.3,187.0 364.3,184.7 365.3,182.5 366.3,180.2 367.3,177.9 368.3,175.6 369.3,173.3 370.3,171.0 371.3,168.7 372.3,166.5 373.3,164.3 374.3,162.2 375.3,160.1 376.3,158.0 377.3,156.0 378.3,154.1 379.3,152.2 380.3,150.4 381.3,148.6 382.3,147.0 383.3,145.4 384.3,143.9 385.3,142.5 386.3,141.2 387.3,139.9 388.3,138.8 389.3,137.7 390.3,136.7 391.3,135.7 392.3,134.8 393.3,134.0 394.3,133.2 395.3,132.4 396.3,131.8 397.3,131.1 398.3,130.5" fill="none" stroke="#800080"/>
<path d="M142 227h5v1h-5zM142 228h5v1h-5zM142 229h5v1h-5zM142 230h5v1h-5zM142 231h5v1h-5z" fill="#800080"/>
<path d="M157 221h5v1h-5zM157 222h5v1h-5zM157 223h5v1h-5zM157 224h5v1h-5zM157 225h5v1h-5z" fill="#800080"/>
<path d="M172 225h5v1h-5zM172 226h5v1h-5zM172 227h5v1h-5zM172 228h5v1h-5zM172 229h5v1h-5z" fill="#800080"/>
<path d="M187 220h5v1h-5zM187 221h5v1h-5zM187 222h5v1h-5zM187 223h5v1h-5zM187 224h5v1h-5z" fill="#800080"/>
<path d="M202 233h5v1h-5zM202 234h5v1h-5zM202 235h5v1h-5zM202 236h5v1h-5zM202 237h5v1h-5z" fill="#800080"/>
<path d="M217 233h5v1h-5zM217 234h5v1h-5zM217 235h5v1h-5zM217 236h5v1h-5zM217 237h5v1h-5z" fill="#800080"/>
<path d="M232 241h5v1h-5zM232 242h5v1h-5zM232 243h5v1h-5zM232 244h5v1h-5zM232 245h5v1h-5z" fill="#800080"/>
<path d="M247 245h5v1h-5zM247 246h5v1h-5zM247 247h5v1h-5zM247 248h5v1h-5zM247 249h5v1h-5z" fill="#800080"/>
<path d="M262 246h5v1h-5zM262 247h5v1h-5zM262 248h5v1h-5zM262 249h5v1h-5zM262 250h5v1h-5z" fill="#800080"/>
<path d="M276 250h5v1h-5zM276 251h5v1h-5zM276 252h5v1h-5zM276 253h5v1h-5zM276 254h5v1h-5z" fill="#800080"/>
<path d="M291 255h5v1h-5zM291 256h5v1h-5zM291 257h5v1h-5zM291 258h5v1h-5zM291 259h5v1h-5z" fill="#800080"/>
<path d="M306 250h5v1h-5zM306 251h5v1h-5zM306 252h5v1h-5zM306 253h5v1h-5zM306 254h5v1h-5z" fill="#800080"/>
<path d="M321 237h5v1h-5zM321 238h5v1h-5zM321 239h5v1h-5zM321 240h5v1h-5zM321 241h5v1h-5z" fill="#800080"/>
<path d="M336 214h5v1h-5zM336 215h5v1h-5zM336 216h5v1h-5zM336 217h5v1h-5zM336 218h5v1h-5z" fill="#800080"/>
<path d="M351 202h5v1h-5zM351 203h5v1h-5zM351 204h5v1h-5zM351 205h5v1h-5zM351 206h5v1h-5z" fill="#800080"/>
<path d="M366 173h5v1h-5zM366 174h5v1h-5zM366 175h5v1h-5zM366 176h5v1h-5zM366 177h5v1h-5z" fill="#800080"/>
<path d="M381 143h5v1h-5zM381 144h5v1h-5zM381 145h5v1h-5zM381 146h5v1h-5zM381 147h5v1h-5z" fill="#800080"/>
<path d="M396 128h5v1h-5zM396 129h5v1h-5zM396 130h5v1h-5zM396 131h5v1h-5zM396 132h5v1h-5z" fill="#800080"/>
<polyline points="144.2,199.5 145.2,200.0 146.2,200.6 147.2,201.2 148.2,201.8 149.2,202.5 150.2,203.1 151.2,203.9 152.2,204.6 153.2,205.4 154.2,206.2 155.2,207.0 156.2,207.8 157.2,208.7 158.2,209.6 159.2,210.5 160.2,211.4 161.2,212.4 162.2,213.3 163.2,214.2 164.2,215.1 165.2,216.0 166.2,216.8 167.2,217.5 168.2,218.2 169.2,218.9 170.2,219.4 171.2,219.8 172.2,220.2 173.2,220.4 174.2,220.5 175.2,220.5 176.2,220.3 177.2,220.1 178.2,219.8 179.2,219.4 180.2,219.0 181.2,218.6 182.2,218.2 183.2,217.8 184.2,217.5 185.2,217.3 186.2,217.1 187.2,217.1 188.2,217.2 189.2,217.5 190.2,217.9 191.2,218.6 192.2,219.3 193.2,220.1 194.2,221.1 195.2,222.1 196.2,223.2 197.2,224.3 198.2,225.4 199.2,226.5 200.2,227.5 201.2,228.5 202.2,229.5 203.2,230.3 204.2,231.0 205.2,231.6 206.2,232.1 207.2,232.4 208.2,232.6 209.2,232.8 210.2,232.9 211.2,232.9 212.2,232.9 213.2,232.9 214.2,232.9 215.2,232.8 216.2,232.8 217.2,232.8 218.2,232.9 219.2,233.0 220.2,233.2 221.2,233.4 222.2,233.7 223.2,234.1 224.2,234.5 225.2,235.0 226.2,235.5 227.2,236.1 228.2,236.6 229.2,237.2 230.2,237.9 231.2,238.5 232.2,239.2 233.2,239.8 234.2,240.5 235.2,241.2 236.2,241.9 237.2,242.5 238.2,243.2 239.2,243.8 240.2,244.4 241.2,245.0 242.2,245.6 243.2,246.1 244.2,246.6 245.2,247.1 246.2,247.5 247.2,247.9 248.2,248.2 249.2,248.5 250.2,248.7 251.2,248.9 252.2,249.1 253.2,249.2 254.2,249.2 255.2,249.3 256.2,249.3 257.2,249.3 258.2,249.3 259.2,249.2 260.2,249.2 261.2,249.2 262.2,249.2 263.2,249.2 264.2,249.2 265.2,249.2 266.2,249.3 267.2,249.4 268.2,249.5 269.2,249.6 270.2,249.8 271.2,249.9 272.3,250.1 273.3,250.3 274.3,250.5 275.3,250.7 276.3,250.9 277.3,251.1 278.3,251.4 279.3,251.6 280.3,251.8 281.3,252.1 282.3,252.3 283.3,252.5 284.3,252.8 285.3,253.0 286.3,253.2 287.3,253.4 288.3,253.6 289.3,253.8 290.3,254.0 291.3,254.1 292.3,254.3 293.3,254.4 294.3,254.5 295.3,254.6 296.3,254.7 297.3,254.7 298.3,254.8 299.3,254.8 300.3,254.8 301.3,254.7 302.3,254.7 303.3,254.6 304.3,254.5 305.3,254.4 306.3,254.3 307.3,254.1 308.3,253.9 309.3,253.7 310.3,253.5 311.3,253.2 312.3,252.9 313.3,252.6 314.3,252.3 315.3,251.9 316.3,251.4 317.3,250.9 318.3,250.4 319.3,249.8 320.3,249.2 321.3,248.5 322.3,247.7 323.3,246.9 324.3,246.0 325.3,245.1 326.3,244.1 327.3,243.0 328.3,241.9 329.3,240.8 330.3,239.7 331.3,238.6 332.3,237.4 333.3,236.3 334.3,235.1 335.3,234.0 336.3,233.0 337.3,231.9 338.3,230.9 339.3,230.0 340.3,229.1 341.3,228.2 342.3,227.4 343.3,226.5 344.3,225.7 345.3,224.9 346.3,224.0 347.3,223.1 348.3,222.1 349.3,221.1 350.3,220.0 351.3,218.8 352.3,217.6 353.3,216.2 354.3,214.7 355.3,213.1 356.3,211.3 357.3,209.4 358.3,207.5 359.3,205.3 360.3,203.1 361.3,200.7 362.3,198.2 363.3,195.6 364.3,192.8 365.3,189.9 366.3,186.9 367.3,183.7 368.3,180.4 369.3,176.9 370.3,173.4 371.3,169.7 372.3,166.0 373.3,162.2 374.3,158.5 375.3,154.7 376.3,151.0 377.3,147.3 378.3,143.7 379.3,140.2 380.3,136.9 381.3,133.7 382.3,130.6 383.3,127.8 384.3,125.3 385.3,122.9 386.3,120.8 387.3,118.9 388.3,117.2 389.3,115.7 390.3,114.4 391.3,113.3 392.3,112.3 393.3,111.6 394.3,110.9 395.3,110.5 396.3,110.2 397.3,110.0 398.3,110.0" fill="none" stroke="#0000ff"/>
<path d="M143 197h2v1h-2zM142 198h1v1h-1zM144 198h2v1h-2zM141 199h1v1h-1zM144 199h1v1h-1zM146 199h1v1h-1zM141 200h6v1h-6zM142 201h1v1h-1zM144 201h2v1h-2zM143 202h2v1h-2z" fill="#0000ff"/>
<path d="M158 208h2v1h-2zM157 209h1v1h-1zM159 209h2v1h-2zM156 210h1v1h-1zM159 210h1v1h-1zM161 210h1v1h-1zM156 211h6v1h-6zM157 212h1v1h-1zM159 212h2v1h-2zM158 213h2v1h-2z" fill="#0000ff"/>
<path d="M173 218h2v1h-2zM172 219h1v1h-1zM174 219h2v1h-2zM171 220h1v1h-1zM174 220h1v1h-1zM176 220h1v1h-1zM171 221h6v1h-6zM172 222h1v1h-1zM174 222h2v1h-2zM173 223h2v1h-2z" fill="#0000ff"/>
<path d="M188 215h2v1h-2zM187 216h1v1h-1zM189 216h2v1h-2zM186 217h1v1h-1zM189 217h1v1h-1zM191 217h1v1h-1zM186 218h6v1h-6zM187 219h1v1h-1zM189 219h2v1h-2zM188 220h2v1h-2z" fill="#0000ff"/>
<path d="M203 228h2v1h-2zM202 229h1v1h-1zM204 229h2v1h-2zM201 230h1v1h-1zM204 230h1v1h-1zM206 230h1v1h-1zM201 231h6v1h-6zM202 232h1v1h-1zM204 232h2v1h-2zM203 233h2v1h-2z" fill="#0000ff"/>
<path d="M218 230h2v1h-2zM217 231h1v1h-1zM219 231h2v1h-2zM216 232h1v1h-1zM219 232h1v1h-1zM221 232h1v1h-1zM216 233h6v1h-6zM217 234h1v1h-1zM219 234h2v1h-2zM218 235h2v1h-2z" fill="#0000ff"/>
<path d="M233 238h2v1h-2zM232 239h1v1h-1zM234 239h2v1h-2zM231 240h1v1h-1zM234 240h1v1h-1zM236 240h1v1h-1zM231 241h6v1h-6zM232 242h1v1h-1zM234 242h2v1h-2zM233 243h2v1h-2z" fill="#0000ff"/>
<path d="M248 246h2v1h-2zM247 247h1v1h-1zM249 247h2v1h-2zM246 248h1v1h-1zM249 248h1v1h-1zM251 248h1v1h-1zM246 249h6v1h-6zM247 250h1v1h-1zM249 250h2v1h-2zM248 251h2v1h-2z" fill="#0000ff"/>
<path d="M263 246h2v1h-2zM262 247h1v1h-1zM264 247h2v1h-2zM261 248h1v1h-1zM264 248h1v1h-1zM266 248h1v1h-1zM261 249h6v1h-6zM262 250h1v1h-1zM264 250h2v1h-2zM263 251h2v1h-2z" fill="#0000ff"/>
<path d="M278 249h2v1h-2zM277 250h1v1h-1zM279 250h2v1h-2zM276 251h1v1h-1zM279 251h1v1h-1zM281 251h1v1h-1zM276 252h6v1h-6zM277 253h1v1h-1zM279 253h2v1h-2zM278 254h2v1h-2z" fill="#0000ff"/>
<path d="M293 252h2v1h-2zM292 253h1v1h-1zM294 253h2v1h-2zM291 254h1v1h-1zM294 254h1v1h-1zM296 254h1v1h-1zM291 255h6v1h-6zM292 256h1v1h-1zM294 256h2v1h-2zM293 257h2v1h-2z" fill="#0000ff"/>
<path d="M308 251h2v1h-2zM307 252h1v1h-1zM309 252h2v1h-2zM306 253h1v1h-1zM309 253h1v1h-1zM311 253h1v1h-1zM306 254h6v1h-6zM307 255h1v1h-1zM309 255h2v1h-2zM308 256h2v1h-2z" fill="#0000ff"/>
<path d="M322 244h2v1h-2zM321 245h1v1h-1zM323 245h2v1h-2zM320 246h1v1h-1zM323 246h1v1h-1zM325 246h1v1h-1zM320 247h6v1h-6zM321 248h1v1h-1zM323 248h2v1h-2zM322 249h2v1h-2z" fill="#0000ff"/>
<path d="M337 228h2v1h-2zM336 229h1v1h-1zM338 229h2v1h-2zM335 230h1v1h-1zM338 230h1v1h-1zM340 230h1v1h-1zM335 231h6v1h-6zM336 232h1v1h-1zM338 232h2v1h-2zM337 233h2v1h-2z" fill="#0000ff"/>
<path d="M352 213h2v1h-2zM351 214h1v1h-1zM353 214h2v1h-2zM350 215h1v1h-1zM353 215h1v1h-1zM355 215h1v1h-1zM350 216h6v1h-6zM351 217h1v1h-1zM353 217h2v1h-2zM352 218h2v1h-2z" fill="#0000ff"/>
<path d="M367 177h2v1h-2zM366 178h1v1h-1zM368 178h2v1h-2zM365 179h1v1h-1zM368 179h1v1h-1zM370 179h1v1h-1zM365 180h6v1h-6zM366 181h1v1h-1zM368 181h2v1h-2zM367 182h2v1h-2z" fill="#0000ff"/>
<path d="M382 125h2v1h-2zM381 126h1v1h-1zM383 126h2v1h-2zM380 127h1v1h-1zM383 127h1v1h-1zM385 127h1v1h-1zM380 128h6v1h-6zM381 129h1v1h-1zM383 129h2v1h-2zM382 130h2v1h-2z" fill="#0000ff"/>
<path d="M397 107h2v1h-2zM396 108h1v1h-1zM398 108h2v1h-2zM395 109h1v1h-1zM398 109h1v1h-1zM400 109h1v1h-1zM395 110h6v1h-6zM396 111h1v1h-1zM398 111h2v1h-2zM397 112h2v1h-2z" fill="#0000ff"/>
<polyline points="144.2,199.0 145.2,199.6 146.2,200.2 147.2,200.8 148.2,201.4 149.2,202.0 150.2,202.6 151.2,203.2 152.2,203.8 153.2,204.4 154.2,205.0 155.2,205.6 156.2,206.2 157.2,206.8 158.2,207.4 159.2,208.0 160.2,208.6 161.2,209.1 162.2,209.7 163.2,210.2 164.2,210.7 165.2,211.2 166.2,211.6 167.2,212.0 168.2,212.4 169.2,212.7 170.2,213.0 171.2,213.2 172.2,213.3 173.2,213.5 174.2,213.5 175.2,213.5 176.2,213.4 177.2,213.3 178.2,213.2 179.2,213.0 180.2,212.9 181.2,212.7 182.2,212.6 183.2,212.5 184.2,212.5 185.2,212.5 186.2,212.6 187.2,212.8 188.2,213.1 189.2,213.5 190.2,214.0 191.2,214.7 192.2,215.4 193.2,216.2 194.2,217.1 195.2,218.0 196.2,218.9 197.2,219.9 198.2,220.8 199.2,221.8 200.2,222.7 201.2,223.5 202.2,224.3 203.2,224.9 204.2,225.5 205.2,226.0 206.2,226.3 207.2,226.6 208.2,226.8 209.2,226.9 210.2,227.0 211.2,227.0 212.2,227.0 213.2,227.0 214.2,227.0 215.2,227.0 216.2,227.0 217.2,227.0 218.2,227.1 219.2,227.3 220.2,227.5 221.2,227.9 222.2,228.2 223.2,228.7 224.2,229.1 225.2,229.7 226.2,230.2 227.2,230.8 228.2,231.4 229.2,232.1 230.2,232.7 231.2,233.4 232.2,234.0 233.2,234.7 234.2,235.3 235.2,235.9 236.2,236.5 237.2,237.1 238.2,237.6 239.2,238.2 240.2,238.6 241.2,239.1 242.2,239.5 243.2,239.8 244.2,240.2 245.2,240.4 246.2,240.7 247.2,240.8 248.2,240.9 249.2,241.0 250.2,241.0 251.2,241.0 252.2,240.9 253.2,240.7 254.2,240.6 255.2,240.4 256.2,240.2 257.2,240.0 258.2,239.8 259.2,239.6 260.2,239.4 261.2,239.3 262.2,239.1 263.2,239.0 264.2,239.0 265.2,239.0 266.2,239.1 267.2,239.2 268.2,239.3 269.2,239.5 270.2,239.6 271.2,239.8 272.3,240.1 273.3,240.3 274.3,240.5 275.3,240.8 276.3,241.0 277.3,241.2 278.3,241.4 279.3,241.6 280.3,241.7 281.3,241.8 282.3,241.9 283.3,242.0 284.3,242.0 285.3,242.1 286.3,242.1 287.3,242.1 288.3,242.0 289.3,242.0 290.3,241.9 291.3,241.8 292.3,241.7 293.3,241.6 294.3,241.4 295.3,241.3 296.3,241.1 297.3,241.0 298.3,240.8 299.3,240.6 300.3,240.3 301.3,240.1 302.3,239.8 303.3,239.6 304.3,239.3 305.3,239.0 306.3,238.7 307.3,238.3 308.3,238.0 309.3,237.6 310.3,237.3 311.3,236.9 312.3,236.4 313.3,236.0 314.3,235.5 315.3,235.0 316.3,234.5 317.3,234.0 318.3,233.4 319.3,232.8 320.3,232.2 321.3,231.5 322.3,230.8 323.3,230.1 324.3,229.3 325.3,228.5 326.3,227.7 327.3,226.8 328.3,225.9 329.3,225.0 330.3,224.1 331.3,223.1 332.3,222.1 333.3,221.2 334.3,220.2 335.3,219.2 336.3,218.2 337.3,217.3 338.3,216.3 339.3,215.4 340.3,214.4 341.3,213.5 342.3,212.5 343.3,211.6 344.3,210.6 345.3,209.6 346.3,208.6 347.3,207.5 348.3,206.4 349.3,205.2 350.3,204.0 351.3,202.7 352.3,201.4 353.3,200.0 354.3,198.5 355.3,196.9 356.3,195.2 357.3,193.5 358.3,191.7 359.3,189.8 360.3,187.9 361.3,185.9 362.3,183.8 363.3,181.7 364.3,179.6 365.3,177.4 366.3,175.1 367.3,172.9 368.3,170.6 369.3,168.2 370.3,165.9 371.3,163.5 372.3,161.1 373.3,158.7 374.3,156.3 375.3,153.9 376.3,151.5 377.3,149.2 378.3,146.8 379.3,144.6 380.3,142.3 381.3,140.1 382.3,138.0 383.3,135.9 384.3,133.9 385.3,132.0 386.3,130.1 387.3,128.3 388.3,126.6 389.3,124.9 390.3,123.2 391.3,121.7 392.3,120.2 393.3,118.7 394.3,117.3 395.3,115.9 396.3,114.5 397.3,113.3 398.3,112.0" fill="none" stroke="#ff0000"/>
<path d="M143 196h2v1h-2zM142 197h1v1h-1zM145 197h1v1h-1zM141 198h1v1h-1zM146 198h1v1h-1zM141 199h1v1h-1zM146 199h1v1h-1zM142 200h1v1h-1zM145 200h1v1h-1zM143 201h2v1h-2z" fill="#ff0000"/>
<path d="M158 205h2v1h-2zM157 206h1v1h-1zM160 206h1v1h-1zM156 207h1v1h-1zM161 207h1v1h-1zM156 208h1v1h-1zM161 208h1v1h-1zM157 209h1v1h-1zM160 209h1v1h-1zM158 210h2v1h-2z" fill="#ff0000"/>
<path d="M173 211h2v1h-2zM172 212h1v1h-1zM175 212h1v1h-1zM171 213h1v1h-1zM176 213h1v1h-1zM171 214h1v1h-1zM176 214h1v1h-1zM172 215h1v1h-1zM175 215h1v1h-1zM173 216h2v1h-2z" fill="#ff0000"/>
<path d="M188 211h2v1h-2zM187 212h1v1h-1zM190 212h1v1h-1zM186 213h1v1h-1zM191 213h1v1h-1zM186 214h1v1h-1zM191 214h1v1h-1zM187 215h1v1h-1zM190 215h1v1h-1zM188 216h2v1h-2z" fill="#ff0000"/>
<path d="M203 223h2v1h-2zM202 224h1v1h-1zM205 224h1v1h-1zM201 225h1v1h-1zM206 225h1v1h-1zM201 226h1v1h-1zM206 226h1v1h-1zM202 227h1v1h-1zM205 227h1v1h-1zM203 228h2v1h-2z" fill="#ff0000"/>
<path d="M218 224h2v1h-2zM217 225h1v1h-1zM220 225h1v1h-1zM216 226h1v1h-1zM221 226h1v1h-1zM216 227h1v1h-1zM221 227h1v1h-1zM217 228h1v1h-1zM220 228h1v1h-1zM218 229h2v1h-2z" fill="#ff0000"/>
<path d="M233 232h2v1h-2zM232 233h1v1h-1zM235 233h1v1h-1zM231 234h1v1h-1zM236 234h1v1h-1zM231 235h1v1h-1zM236 235h1v1h-1zM232 236h1v1h-1zM235 236h1v1h-1zM233 237h2v1h-2z" fill="#ff0000"/>
<path d="M248 238h2v1h-2zM247 239h1v1h-1zM250 239h1v1h-1zM246 240h1v1h-1zM251 240h1v1h-1zM246 241h1v1h-1zM251 241h1v1h-1zM247 242h1v1h-1zM250 242h1v1h-1zM248 243h2v1h-2z" fill="#ff0000"/>
<path d="M263 236h2v1h-2zM262 237h1v1h-1zM265 237h1v1h-1zM261 238h1v1h-1zM266 238h1v1h-1zM261 239h1v1h-1zM266 239h1v1h-1zM262 240h1v1h-1zM265 240h1v1h-1zM263 241h2v1h-2z" fill="#ff0000"/>
<path d="M278 239h2v1h-2zM277 240h1v1h-1zM280 240h1v1h-1zM276 241h1v1h-1zM281 241h1v1h-1zM276 242h1v1h-1zM281 242h1v1h-1zM277 243h1v1h-1zM280 243h1v1h-1zM278 244h2v1h-2z" fill="#ff0000"/>
<path d="M293 239h2v1h-2zM292 240h1v1h-1zM295 240h1v1h-1zM291 241h1v1h-1zM296 241h1v1h-1zM291 242h1v1h-1zM296 242h1v1h-1zM292 243h1v1h-1zM295 243h1v1h-1zM293 244h2v1h-2z" fill="#ff0000"/>
<path d="M308 235h2v1h-2zM307 236h1v1h-1zM310 236h1v1h-1zM306 237h1v1h-1zM311 237h1v1h-1zM306 238h1v1h-1zM311 238h1v1h-1zM307 239h1v1h-1zM310 239h1v1h-1zM308 240h2v1h-2z" fill="#ff0000"/>
<path d="M322 227h2v1h-2zM321 228h1v1h-1zM324 228h1v1h-1zM320 229h1v1h-1zM325 229h1v1h-1zM320 230h1v1h-1zM325 230h1v1h-1zM321 231h1v1h-1zM324 231h1v1h-1zM322 232h2v1h-2z" fill="#ff0000"/>
<path d="M337 213h2v1h-2zM336 214h1v1h-1zM339 214h1v1h-1zM335 215h1v1h-1zM340 215h1v1h-1zM335 216h1v1h-1zM340 216h1v1h-1zM336 217h1v1h-1zM339 217h1v1h-1zM337 218h2v1h-2z" fill="#ff0000"/>
<path d="M352 197h2v1h-2zM351 198h1v1h-1zM354 198h1v1h-1zM350 199h1v1h-1zM355 199h1v1h-1zM350 200h1v1h-1zM355 200h1v1h-1zM351 201h1v1h-1zM354 201h1v1h-1zM352 202h2v1h-2z" fill="#ff0000"/>
<path d="M367 167h2v1h-2zM366 168h1v1h-1zM369 168h1v1h-1zM365 169h1v1h-1zM370 169h1v1h-1zM365 170h1v1h-1zM370 170h1v1h-1zM366 171h1v1h-1zM369 171h1v1h-1zM367 172h2v1h-2z" fill="#ff0000"/>
<path d="M382 133h2v1h-2zM381 134h1v1h-1zM384 134h1v1h-1zM380 135h1v1h-1zM385 135h1v1h-1zM380 136h1v1h-1zM385 136h1v1h-1zM381 137h1v1h-1zM384 137h1v1h-1zM382 138h2v1h-2z" fill="#ff0000"/>
<path d="M397 109h2v1h-2zM396 110h1v1h-1zM399 110h1v1h-1zM395 111h1v1h-1zM400 111h1v1h-1zM395 112h1v1h-1zM400 112h1v1h-1zM396 113h1v1h-1zM399 113h1v1h-1zM397 114h2v1h-2z" fill="#ff0000"/>
<polyline points="144.2,201.0 145.2,201.1 146.2,201.3 147.2,201.6 148.2,201.8 149.2,202.1 150.2,202.5 151.2,202.8 152.2,203.2 153.2,203.7 154.2,204.1 155.2,204.6 156.2,205.2 157.2,205.8 158.2,206.4 159.2,207.0 160.2,207.7 161.2,208.4 162.2,209.1 163.2,209.8 164.2,210.5 165.2,211.2 166.2,211.8 167.2,212.5 168.2,213.0 169.2,213.6 170.2,214.0 171.2,214.4 172.2,214.7 173.2,214.9 174.2,215.0 175.2,215.0 176.2,214.9 177.2,214.7 178.2,214.5 179.2,214.2 180.2,213.9 181.2,213.5 182.2,213.2 183.2,212.9 184.2,212.7 185.2,212.5 186.2,212.4 187.2,212.4 188.2,212.6 189.2,212.8 190.2,213.2 191.2,213.7 192.2,214.4 193.2,215.1 194.2,215.9 195.2,216.8 196.2,217.7 197.2,218.7 198.2,219.6 199.2,220.6 200.2,221.5 201.2,222.4 202.2,223.2 203.2,223.9 204.2,224.5 205.2,225.0 206.2,225.4 207.2,225.7 208.2,225.9 209.2,226.1 210.2,226.2 211.2,226.3 212.2,226.3 213.2,226.3 214.2,226.3 215.2,226.4 216.2,226.4 217.2,226.5 218.2,226.6 219.2,226.8 220.2,227.1 221.2,227.4 222.2,227.8 223.2,228.2 224.2,228.7 225.2,229.2 226.2,229.8 227.2,230.3 228.2,231.0 229.2,231.6 230.2,232.2 231.2,232.8 232.2,233.4 233.2,234.0 234.2,234.6 235.2,235.2 236.2,235.7 237.2,236.2 238.2,236.7 239.2,237.1 240.2,237.5 241.2,237.9 242.2,238.2 243.2,238.4 244.2,238.6 245.2,238.8 246.2,238.9 247.2,238.9 248.2,238.9 249.2,238.8 250.2,238.6 251.2,238.4 252.2,238.2 253.2,237.9 254.2,237.6 255.2,237.2 256.2,236.9 257.2,236.5 258.2,236.2 259.2,235.8 260.2,235.5 261.2,235.3 262.2,235.0 263.2,234.9 264.2,234.8 265.2,234.8 266.2,234.8 267.2,234.9 268.2,235.0 269.2,235.2 270.2,235.5 271.2,235.7 272.3,236.0 273.3,236.3 274.3,236.6 275.3,236.9 276.3,237.1 277.3,237.4 278.3,237.7 279.3,237.9 280.3,238.1 281.3,238.2 282.3,238.3 283.3,238.4 284.3,238.4 285.3,238.4 286.3,238.4 287.3,238.4 288.3,238.2 289.3,238.1 290.3,237.9 291.3,237.7 292.3,237.5 293.3,237.2 294.3,236.9 295.3,236.5 296.3,236.1 297.3,235.7 298.3,235.2 299.3,234.8 300.3,234.2 301.3,233.7 302.3,233.1 303.3,232.5 304.3,231.9 305.3,231.2 306.3,230.6 307.3,229.9 308.3,229.2 309.3,228.5 310.3,227.7 311.3,227.0 312.3,226.2 313.3,225.4 314.3,224.6 315.3,223.8 316.3,223.0 317.3,222.1 318.3,221.3 319.3,220.4 320.3,219.6 321.3,218.7 322.3,217.8 323.3,216.9 324.3,216.0 325.3,215.1 326.3,214.2 327.3,213.2 328.3,212.3 329.3,211.3 330.3,210.3 331.3,209.3 332.3,208.3 333.3,207.2 334.3,206.1 335.3,205.0 336.3,203.8 337.3,202.6 338.3,201.4 339.3,200.1 340.3,198.7 341.3,197.4 342.3,196.0 343.3,194.6 344.3,193.1 345.3,191.7 346.3,190.2 347.3,188.7 348.3,187.3 349.3,185.8 350.3,184.3 351.3,182.8 352.3,181.4 353.3,180.0 354.3,178.6 355.3,177.2 356.3,175.8 357.3,174.4 358.3,172.9 359.3,171.4 360.3,169.9 361.3,168.3 362.3,166.6 363.3,164.8 364.3,162.9 365.3,160.9 366.3,158.8 367.3,156.5 368.3,154.0 369.3,151.3 370.3,148.6 371.3,145.6 372.3,142.6 373.3,139.4 374.3,136.2 375.3,132.9 376.3,129.6 377.3,126.2 378.3,122.9 379.3,119.6 380.3,116.3 381.3,113.1 382.3,110.0 383.3,107.0 384.3,104.1 385.3,101.3 386.3,98.7 387.3,96.2 388.3,93.8 389.3,91.5 390.3,89.3 391.3,87.3 392.3,85.3 393.3,83.5 394.3,81.8 395.3,80.1 396.3,78.6 397.3,77.1 398.3,75.8" fill="none" stroke="#000000"/>
<path d="M143 198h2v1h-2zM142 199h4v1h-4zM141 200h6v1h-6zM141 201h6v1h-6zM142 202h4v1h-4zM143 203h2v1h-2z" fill="#000000"/>
<path d="M158 204h2v1h-2zM157 205h4v1h-4zM156 206h6v1h-6zM156 207h6v1h-6zM157 208h4v1h-4zM158 209h2v1h-2z" fill="#000000"/>
<path d="M173 212h2v1h-2zM172 213h4v1h-4zM171 214h6v1h-6zM171 215h6v1h-6zM172 216h4v1h-4zM173 217h2v1h-2z" fill="#000000"/>
<path d="M188 210h2v1h-2zM187 211h4v1h-4zM186 212h6v1h-6zM186 213h6v1h-6zM187 214h4v1h-4zM188 215h2v1h-2z" fill="#000000"/>
<path d="M203 222h2v1h-2zM202 223h4v1h-4zM201 224h6v1h-6zM201 225h6v1h-6zM202 226h4v1h-4zM203 227h2v1h-2z" fill="#000000"/>
<path d="M218 224h2v1h-2zM217 225h4v1h-4zM216 226h6v1h-6zM216 227h6v1h-6zM217 228h4v1h-4zM218 229h2v1h-2z" fill="#000000"/>
<path d="M233 232h2v1h-2zM232 233h4v1h-4zM231 234h6v1h-6zM231 235h6v1h-6zM232 236h4v1h-4zM233 237h2v1h-2z" fill="#000000"/>
<path d="M248 236h2v1h-2zM247 237h4v1h-4zM246 238h6v1h-6zM246 239h6v1h-6zM247 240h4v1h-4zM248 241h2v1h-2z" fill="#000000"/>
<path d="M263 232h2v1h-2zM262 233h4v1h-4zM261 234h6v1h-6zM261 235h6v1h-6zM262 236h4v1h-4zM263 237h2v1h-2z" fill="#000000"/>
<path d="M278 235h2v1h-2zM277 236h4v1h-4zM276 237h6v1h-6zM276 238h6v1h-6zM277 239h4v1h-4zM278 240h2v1h-2z" fill="#000000"/>
<path d="M293 234h2v1h-2zM292 235h4v1h-4zM291 236h6v1h-6zM291 237h6v1h-6zM292 238h4v1h-4zM293 239h2v1h-2z" fill="#000000"/>
<path d="M308 226h2v1h-2zM307 227h4v1h-4zM306 228h6v1h-6zM306 229h6v1h-6zM307 230h4v1h-4zM308 231h2v1h-2z" fill="#000000"/>
<path d="M322 214h2v1h-2zM321 215h4v1h-4zM320 216h6v1h-6zM320 217h6v1h-6zM321 218h4v1h-4zM322 219h2v1h-2z" fill="#000000"/>
<path d="M337 198h2v1h-2zM336 199h4v1h-4zM335 200h6v1h-6zM335 201h6v1h-6zM336 202h4v1h-4zM337 203h2v1h-2z" fill="#000000"/>
<path d="M352 177h2v1h-2zM351 178h4v1h-4zM350 179h6v1h-6zM350 180h6v1h-6zM351 181h4v1h-4zM352 182h2v1h-2z" fill="#000000"/>
<path d="M367 151h2v1h-2zM366 152h4v1h-4zM365 153h6v1h-6zM365 154h6v1h-6zM366 155h4v1h-4zM367 156h2v1h-2z" fill="#000000"/>
<path d="M382 104h2v1h-2zM381 105h4v1h-4zM380 106h6v1h-6zM380 107h6v1h-6zM381 108h4v1h-4zM382 109h2v1h-2z" fill="#000000"/>
<path d="M397 73h2v1h-2zM396 74h4v1h-4zM395 75h6v1h-6zM395 76h6v1h-6zM396 77h4v1h-4zM397 78h2v1h-2z" fill="#000000"/>
</g>
<g shape-rendering="crispEdges">
<rect x="463" y="39" width="21" height="1" fill="#000000"/>
<path d="M473 35h1v1h-1zM472 36h2v1h-2zM470 37h3v1h-3zM474 37h3v1h-3zM470 38h1v1h-1zM475 38h1v1h-1zM470 39h1v1h-1zM475 39h1v1h-1zM470 40h1v1h-1zM475 40h1v1h-1zM470 41h3v1h-3zM474 41h3v1h-3zM472 42h2v1h-2zM473 43h1v1h-1z" fill="#000000"/>
<rect x="463" y="53" width="21" height="1" fill="#ff0000"/>
<path d="M471 50h6v1h-6zM472 51h1v1h-1zM475 51h1v1h-1zM473 52h2v1h-2zM473 53h2v1h-2zM473 54h2v1h-2zM472 55h1v1h-1zM475 55h1v1h-1zM471 56h6v1h-6z" fill="#ff0000"/>
<rect x="463" y="67" width="21" height="1" fill="#0000ff"/>
<path d="M470 65h7v1h-7zM470 66h6v1h-6zM471 67h5v1h-5zM471 68h4v1h-4zM472 69h3v1h-3zM472 70h2v1h-2zM473 71h1v1h-1z" fill="#0000ff"/>
<rect x="463" y="81" width="21" height="1" fill="#000080"/>
<path d="M473 78h1v1h-1zM472 79h3v1h-3zM471 80h5v1h-5zM471 81h6v1h-6zM471 82h6v1h-6zM471 83h5v1h-5zM472 84h3v1h-3zM473 85h1v1h-1z" fill="#000080"/>
<rect x="463" y="95" width="21" height="1" fill="#800080"/>
<path d="M473 92h1v1h-1zM472 93h1v1h-1zM474 93h2v1h-2zM471 94h1v1h-1zM476 94h1v1h-1zM471 95h1v1h-1zM476 95h1v1h-1zM471 96h1v1h-1zM476 96h1v1h-1zM471 97h1v1h-1zM475 97h1v1h-1zM472 98h1v1h-1zM474 98h1v1h-1zM473 99h1v1h-1z" fill="#800080"/>
<rect x="463" y="110" width="21" height="1" fill="#0000ff"/>
<path d="M473 106h1v1h-1zM472 107h1v1h-1zM474 107h1v1h-1zM472 108h1v1h-1zM474 108h1v1h-1zM471 109h1v1h-1zM475 109h1v1h-1zM471 110h1v1h-1zM475 110h1v1h-1zM470 111h7v1h-7z" fill="#0000ff"/>
<rect x="463" y="124" width="21" height="1" fill="#008000"/>
<path d="M473 120h1v1h-1zM472 121h3v1h-3zM472 122h3v1h-3zM471 123h5v1h-5zM471 124h5v1h-5zM470 125h7v1h-7z" fill="#008000"/>
<rect x="463" y="138" width="21" height="1" fill="#000080"/>
<path d="M471 135h6v1h-6zM471 136h1v1h-1zM473 136h1v1h-1zM476 136h1v1h-1zM471 137h1v1h-1zM473 137h1v1h-1zM476 137h1v1h-1zM471 138h6v1h-6zM471 139h1v1h-1zM473 139h1v1h-1zM476 139h1v1h-1zM471 140h6v1h-6z" fill="#000080"/>
<rect x="463" y="152" width="21" height="1" fill="#808000"/>
<path d="M471 149h6v1h-6zM471 150h1v1h-1zM476 150h1v1h-1zM471 151h1v1h-1zM476 151h1v1h-1zM471 152h1v1h-1zM476 152h1v1h-1zM471 153h1v1h-1zM476 153h1v1h-1zM471 154h1v1h-1zM476 154h1v1h-1zM471 155h6v1h-6z" fill="#808000"/>
<rect x="463" y="166" width="21" height="1" fill="#800080"/>
<path d="M471 164h6v1h-6zM471 165h6v1h-6zM471 166h6v1h-6zM471 167h6v1h-6zM471 168h6v1h-6zM471 169h6v1h-6z" fill="#800080"/>
<rect x="463" y="180" width="21" height="1" fill="#0000ff"/>
<path d="M472 177h3v1h-3zM471 178h1v1h-1zM473 178h1v1h-1zM475 178h1v1h-1zM470 179h1v1h-1zM473 179h1v1h-1zM476 179h1v1h-1zM470 180h7v1h-7zM470 181h1v1h-1zM473 181h1v1h-1zM476 181h1v1h-1zM471 182h1v1h-1zM473 182h1v1h-1zM475 182h1v1h-1zM472 183h3v1h-3z" fill="#0000ff"/>
<rect x="463" y="194" width="21" height="1" fill="#ff0000"/>
<path d="M472 191h3v1h-3zM471 192h1v1h-1zM475 192h1v1h-1zM470 193h1v1h-1zM476 193h1v1h-1zM470 194h1v1h-1zM476 194h1v1h-1zM470 195h1v1h-1zM476 195h1v1h-1zM471 196h1v1h-1zM475 196h1v1h-1zM472 197h3v1h-3z" fill="#ff0000"/>
<rect x="463" y="209" width="21" height="1" fill="#000000"/>
<path d="M472 206h3v1h-3zM471 207h5v1h-5zM470 208h7v1h-7zM470 209h7v1h-7zM470 210h7v1h-7zM471 211h5v1h-5zM472 212h3v1h-3z" fill="#000000"/>
</g>
<text class="lg" y="42" fill="#000000" stroke="#000000"><tspan x="491" textLength="78.5" lengthAdjust="spacingAndGlyphs">4/20/2001 12:24:33</tspan> <tspan x="572.1" textLength="15.5" lengthAdjust="spacingAndGlyphs">AM</tspan></text>
<text class="lg" y="56" fill="#ff0000" stroke="#ff0000"><tspan x="491" textLength="78.5" lengthAdjust="spacingAndGlyphs">4/20/2001 12:04:01</tspan> <tspan x="572.1" textLength="15.5" lengthAdjust="spacingAndGlyphs">AM</tspan></text>
<text class="lg" y="70" fill="#0000ff" stroke="#0000ff"><tspan x="491" textLength="78.5" lengthAdjust="spacingAndGlyphs">4/19/2001 10:48:01</tspan> <tspan x="572.1" textLength="13.2" lengthAdjust="spacingAndGlyphs">PM</tspan></text>
<text class="lg" y="84" fill="#000080" stroke="#000080"><tspan x="491" textLength="73.5" lengthAdjust="spacingAndGlyphs">4/19/2001 9:38:46</tspan> <tspan x="567.1" textLength="13.2" lengthAdjust="spacingAndGlyphs">PM</tspan></text>
<text class="lg" y="98" fill="#800080" stroke="#800080"><tspan x="491" textLength="73.5" lengthAdjust="spacingAndGlyphs">4/19/2001 8:49:45</tspan> <tspan x="567.1" textLength="13.2" lengthAdjust="spacingAndGlyphs">PM</tspan></text>
<text class="lg" y="113" fill="#0000ff" stroke="#0000ff"><tspan x="491" textLength="73.5" lengthAdjust="spacingAndGlyphs">4/19/2001 8:09:31</tspan> <tspan x="567.1" textLength="13.2" lengthAdjust="spacingAndGlyphs">PM</tspan></text>
<text class="lg" y="127" fill="#008000" stroke="#008000"><tspan x="491" textLength="73.5" lengthAdjust="spacingAndGlyphs">4/19/2001 7:20:43</tspan> <tspan x="567.1" textLength="13.2" lengthAdjust="spacingAndGlyphs">PM</tspan></text>
<text class="lg" y="141" fill="#000080" stroke="#000080"><tspan x="491" textLength="73.5" lengthAdjust="spacingAndGlyphs">4/19/2001 6:59:59</tspan> <tspan x="567.1" textLength="13.2" lengthAdjust="spacingAndGlyphs">PM</tspan></text>
<text class="lg" y="155" fill="#808000" stroke="#808000"><tspan x="491" textLength="73.5" lengthAdjust="spacingAndGlyphs">4/19/2001 6:46:44</tspan> <tspan x="567.1" textLength="13.2" lengthAdjust="spacingAndGlyphs">PM</tspan></text>
<text class="lg" y="169" fill="#800080" stroke="#800080"><tspan x="491" textLength="73.5" lengthAdjust="spacingAndGlyphs">4/19/2001 6:39:40</tspan> <tspan x="567.1" textLength="13.2" lengthAdjust="spacingAndGlyphs">PM</tspan></text>
<text class="lg" y="183" fill="#0000ff" stroke="#0000ff"><tspan x="491" textLength="73.5" lengthAdjust="spacingAndGlyphs">4/19/2001 6:11:24</tspan> <tspan x="567.1" textLength="13.2" lengthAdjust="spacingAndGlyphs">PM</tspan></text>
<text class="lg" y="197" fill="#ff0000" stroke="#ff0000"><tspan x="491" textLength="73.5" lengthAdjust="spacingAndGlyphs">4/19/2001 6:03:13</tspan> <tspan x="567.1" textLength="13.2" lengthAdjust="spacingAndGlyphs">PM</tspan></text>
<text class="lg" y="212" fill="#000000" stroke="#000000"><tspan x="491" textLength="73.5" lengthAdjust="spacingAndGlyphs">4/19/2001 5:51:05</tspan> <tspan x="567.1" textLength="13.2" lengthAdjust="spacingAndGlyphs">PM</tspan></text>
</svg></body></html>
